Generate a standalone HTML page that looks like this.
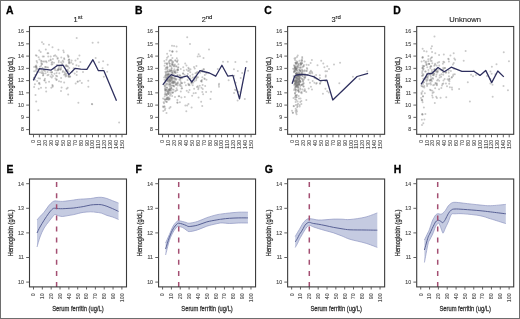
<!DOCTYPE html>
<html><head><meta charset="utf-8"><style>
html,body{margin:0;padding:0;background:#fff;width:520px;height:319px;overflow:hidden;font-family:"Liberation Sans", sans-serif;}
</style></head><body>
<svg width="520" height="319" viewBox="0 0 520 319" style="display:block;will-change:transform">
<rect x="0" y="0" width="520" height="319" fill="#fff"/>
<g fill="#777" fill-opacity="0.4">
<circle cx="57.52" cy="58.67" r="1"/>
<circle cx="52.35" cy="64.24" r="1"/>
<circle cx="36.6" cy="60.9" r="1"/>
<circle cx="42.12" cy="64.02" r="1"/>
<circle cx="60.99" cy="90.93" r="1"/>
<circle cx="47.59" cy="53.37" r="1"/>
<circle cx="45.19" cy="67.08" r="1"/>
<circle cx="47.49" cy="75.24" r="1"/>
<circle cx="36.24" cy="65.53" r="1"/>
<circle cx="55.16" cy="55.34" r="1"/>
<circle cx="62.68" cy="71.88" r="1"/>
<circle cx="65.59" cy="76.53" r="1"/>
<circle cx="69.37" cy="62.06" r="1"/>
<circle cx="51.69" cy="62.68" r="1"/>
<circle cx="61.61" cy="87.51" r="1"/>
<circle cx="55.48" cy="78.43" r="1"/>
<circle cx="64.32" cy="59.13" r="1"/>
<circle cx="59.34" cy="73.36" r="1"/>
<circle cx="72.4" cy="71.66" r="1"/>
<circle cx="50.71" cy="60.13" r="1"/>
<circle cx="36.21" cy="68.99" r="1"/>
<circle cx="65.45" cy="74.7" r="1"/>
<circle cx="53.86" cy="56.1" r="1"/>
<circle cx="49.04" cy="81.7" r="1"/>
<circle cx="78.73" cy="66.02" r="1"/>
<circle cx="51.54" cy="64.62" r="1"/>
<circle cx="34.24" cy="77.79" r="1"/>
<circle cx="66.27" cy="64.99" r="1"/>
<circle cx="58.43" cy="49.76" r="1"/>
<circle cx="71.28" cy="62.58" r="1"/>
<circle cx="37.82" cy="71.91" r="1"/>
<circle cx="39.93" cy="72.2" r="1"/>
<circle cx="34.1" cy="66.94" r="1"/>
<circle cx="65.56" cy="65.89" r="1"/>
<circle cx="43.17" cy="74.93" r="1"/>
<circle cx="80.38" cy="61.94" r="1"/>
<circle cx="37.18" cy="62.39" r="1"/>
<circle cx="41.61" cy="64.2" r="1"/>
<circle cx="58.71" cy="62.15" r="1"/>
<circle cx="69.31" cy="59.81" r="1"/>
<circle cx="43.49" cy="73.54" r="1"/>
<circle cx="62.13" cy="65.17" r="1"/>
<circle cx="63.3" cy="50.48" r="1"/>
<circle cx="68.58" cy="71.39" r="1"/>
<circle cx="46.89" cy="67.28" r="1"/>
<circle cx="59.01" cy="69.15" r="1"/>
<circle cx="92.65" cy="42.67" r="1"/>
<circle cx="88.26" cy="80.81" r="1"/>
<circle cx="41.17" cy="65.7" r="1"/>
<circle cx="56.44" cy="56.43" r="1"/>
<circle cx="37.14" cy="81.03" r="1"/>
<circle cx="51.29" cy="87.77" r="1"/>
<circle cx="46.06" cy="61.36" r="1"/>
<circle cx="68.17" cy="94.41" r="1"/>
<circle cx="38.66" cy="57.21" r="1"/>
<circle cx="63.84" cy="52.29" r="1"/>
<circle cx="103.8" cy="76.87" r="1"/>
<circle cx="69.03" cy="59.59" r="1"/>
<circle cx="67.69" cy="87.74" r="1"/>
<circle cx="43.15" cy="61.55" r="1"/>
<circle cx="55.2" cy="70.18" r="1"/>
<circle cx="50.58" cy="59.38" r="1"/>
<circle cx="66.64" cy="88.81" r="1"/>
<circle cx="52.93" cy="59.1" r="1"/>
<circle cx="40.68" cy="52.02" r="1"/>
<circle cx="60.19" cy="69.14" r="1"/>
<circle cx="52.75" cy="85.71" r="1"/>
<circle cx="43.03" cy="75.43" r="1"/>
<circle cx="52.36" cy="84.9" r="1"/>
<circle cx="56.13" cy="75.84" r="1"/>
<circle cx="59.02" cy="81.14" r="1"/>
<circle cx="66.68" cy="66.01" r="1"/>
<circle cx="46.19" cy="91.43" r="1"/>
<circle cx="38.47" cy="78.15" r="1"/>
<circle cx="42.75" cy="56.5" r="1"/>
<circle cx="41.29" cy="63.11" r="1"/>
<circle cx="39.24" cy="50.56" r="1"/>
<circle cx="52.65" cy="86.8" r="1"/>
<circle cx="72.89" cy="64.08" r="1"/>
<circle cx="41.13" cy="60.73" r="1"/>
<circle cx="34.79" cy="79.53" r="1"/>
<circle cx="56.55" cy="73.09" r="1"/>
<circle cx="69.54" cy="63.33" r="1"/>
<circle cx="35.51" cy="94.99" r="1"/>
<circle cx="38.75" cy="88.63" r="1"/>
<circle cx="39.47" cy="59.45" r="1"/>
<circle cx="59.3" cy="66.72" r="1"/>
<circle cx="36.7" cy="67.78" r="1"/>
<circle cx="102.59" cy="68.27" r="1"/>
<circle cx="65.14" cy="73.46" r="1"/>
<circle cx="53.99" cy="62.64" r="1"/>
<circle cx="42.67" cy="73.02" r="1"/>
<circle cx="35.9" cy="67.05" r="1"/>
<circle cx="44.53" cy="61.49" r="1"/>
<circle cx="46.58" cy="62.18" r="1"/>
<circle cx="53.92" cy="68.73" r="1"/>
<circle cx="67.73" cy="55.35" r="1"/>
<circle cx="64.13" cy="58.36" r="1"/>
<circle cx="58.84" cy="60.65" r="1"/>
<circle cx="56.98" cy="70.56" r="1"/>
<circle cx="36.05" cy="67" r="1"/>
<circle cx="39.97" cy="66.84" r="1"/>
<circle cx="74.67" cy="73.39" r="1"/>
<circle cx="50.63" cy="76.58" r="1"/>
<circle cx="43.56" cy="44.04" r="1"/>
<circle cx="68.84" cy="75.83" r="1"/>
<circle cx="34.13" cy="77.76" r="1"/>
<circle cx="52.26" cy="62.05" r="1"/>
<circle cx="37.32" cy="71.88" r="1"/>
<circle cx="42.47" cy="67.89" r="1"/>
<circle cx="61.1" cy="78.11" r="1"/>
<circle cx="45.83" cy="82.57" r="1"/>
<circle cx="76.84" cy="71.85" r="1"/>
<circle cx="75.66" cy="83.46" r="1"/>
<circle cx="63.32" cy="61.93" r="1"/>
<circle cx="71.6" cy="60.41" r="1"/>
<circle cx="66.22" cy="75.74" r="1"/>
<circle cx="38.88" cy="83.32" r="1"/>
<circle cx="64.17" cy="82.43" r="1"/>
<circle cx="51.7" cy="74.53" r="1"/>
<circle cx="61.02" cy="81.7" r="1"/>
<circle cx="60.61" cy="69.8" r="1"/>
<circle cx="43.65" cy="70.44" r="1"/>
<circle cx="57.11" cy="76.16" r="1"/>
<circle cx="58.7" cy="68.13" r="1"/>
<circle cx="39.4" cy="83.07" r="1"/>
<circle cx="45.05" cy="70.99" r="1"/>
<circle cx="58.28" cy="70.22" r="1"/>
<circle cx="44.56" cy="80.47" r="1"/>
<circle cx="66.25" cy="70.71" r="1"/>
<circle cx="77.73" cy="58.78" r="1"/>
<circle cx="55.04" cy="68.38" r="1"/>
<circle cx="68.12" cy="66.41" r="1"/>
<circle cx="68.38" cy="57.03" r="1"/>
<circle cx="57.8" cy="58" r="1"/>
<circle cx="56.75" cy="79.54" r="1"/>
<circle cx="51.79" cy="77.49" r="1"/>
<circle cx="45.47" cy="67.05" r="1"/>
<circle cx="61.11" cy="66.94" r="1"/>
<circle cx="66.54" cy="73.77" r="1"/>
<circle cx="48.23" cy="56.5" r="1"/>
<circle cx="43.99" cy="69.67" r="1"/>
<circle cx="64.13" cy="74.67" r="1"/>
<circle cx="52.48" cy="47.2" r="1"/>
<circle cx="68.5" cy="56.19" r="1"/>
<circle cx="77.94" cy="81.48" r="1"/>
<circle cx="35.87" cy="70.76" r="1"/>
<circle cx="44.39" cy="80.24" r="1"/>
<circle cx="40.02" cy="78.43" r="1"/>
<circle cx="69.23" cy="68.01" r="1"/>
<circle cx="44.92" cy="78.76" r="1"/>
<circle cx="41.57" cy="73.03" r="1"/>
<circle cx="42.01" cy="42.19" r="1"/>
<circle cx="41.01" cy="87.87" r="1"/>
<circle cx="37.37" cy="69.06" r="1"/>
<circle cx="69.03" cy="62.02" r="1"/>
<circle cx="52.95" cy="75.94" r="1"/>
<circle cx="68.92" cy="63.35" r="1"/>
<circle cx="56.75" cy="65.12" r="1"/>
<circle cx="48.48" cy="74.76" r="1"/>
<circle cx="73.65" cy="68.14" r="1"/>
<circle cx="66.33" cy="71.05" r="1"/>
<circle cx="34.1" cy="86.98" r="1"/>
<circle cx="79.41" cy="55.46" r="1"/>
<circle cx="39.65" cy="84.26" r="1"/>
<circle cx="107.22" cy="71.65" r="1"/>
<circle cx="50.55" cy="72.21" r="1"/>
<circle cx="67.2" cy="70.46" r="1"/>
<circle cx="38.7" cy="69.73" r="1"/>
<circle cx="36.62" cy="55.64" r="1"/>
<circle cx="48.06" cy="67.38" r="1"/>
<circle cx="50.67" cy="56.47" r="1"/>
<circle cx="103.13" cy="61.28" r="1"/>
<circle cx="68.66" cy="77" r="1"/>
<circle cx="34.87" cy="84.26" r="1"/>
<circle cx="58.11" cy="69.42" r="1"/>
<circle cx="35.32" cy="74.95" r="1"/>
<circle cx="62.78" cy="60.86" r="1"/>
<circle cx="41.48" cy="61.26" r="1"/>
<circle cx="42.06" cy="71.17" r="1"/>
<circle cx="68.35" cy="75.88" r="1"/>
<circle cx="58.03" cy="69.41" r="1"/>
<circle cx="76.67" cy="74.89" r="1"/>
<circle cx="76.44" cy="65.37" r="1"/>
<circle cx="48.25" cy="53.27" r="1"/>
<circle cx="77.51" cy="81.71" r="1"/>
<circle cx="67.77" cy="69.63" r="1"/>
<circle cx="47.55" cy="72.07" r="1"/>
<circle cx="34.19" cy="71.27" r="1"/>
<circle cx="75.47" cy="60.61" r="1"/>
<circle cx="79.91" cy="80.87" r="1"/>
<circle cx="35.86" cy="55.31" r="1"/>
<circle cx="67.18" cy="66.31" r="1"/>
<circle cx="48.87" cy="60.84" r="1"/>
<circle cx="35.55" cy="66.14" r="1"/>
<circle cx="60.98" cy="68.81" r="1"/>
<circle cx="43.89" cy="56.48" r="1"/>
<circle cx="45.48" cy="73.14" r="1"/>
<circle cx="61.29" cy="57.55" r="1"/>
<circle cx="70.19" cy="76.54" r="1"/>
<circle cx="68.52" cy="60.29" r="1"/>
<circle cx="51.85" cy="72.34" r="1"/>
<circle cx="62.97" cy="70.89" r="1"/>
<circle cx="45.89" cy="87.76" r="1"/>
<circle cx="62.24" cy="63.86" r="1"/>
<circle cx="36.42" cy="66.48" r="1"/>
<circle cx="45.81" cy="49.41" r="1"/>
<circle cx="82.97" cy="72.09" r="1"/>
<circle cx="52.03" cy="72.24" r="1"/>
<circle cx="56.41" cy="79.9" r="1"/>
<circle cx="64.57" cy="72.13" r="1"/>
<circle cx="54.49" cy="73.85" r="1"/>
<circle cx="41.26" cy="69.46" r="1"/>
<circle cx="61.04" cy="62.22" r="1"/>
<circle cx="69.81" cy="76.68" r="1"/>
<circle cx="91.9" cy="104" r="1"/>
<circle cx="119.1" cy="122.6" r="1"/>
<circle cx="36.2" cy="101.4" r="1"/>
<circle cx="38.4" cy="110.2" r="1"/>
<circle cx="78.4" cy="102.7" r="1"/>
<circle cx="92.2" cy="104.2" r="1"/>
<circle cx="81.8" cy="82.9" r="1"/>
<circle cx="88.4" cy="86.7" r="1"/>
<circle cx="76.7" cy="38" r="1"/>
<circle cx="98.2" cy="42.4" r="1"/>
<circle cx="95.6" cy="57.9" r="1"/>
<circle cx="107.7" cy="64.8" r="1"/>
<circle cx="99" cy="62.2" r="1"/>
<circle cx="49" cy="44.8" r="1"/>
<circle cx="206.47" cy="79.74" r="1"/>
<circle cx="165.13" cy="76.16" r="1"/>
<circle cx="170.02" cy="80.88" r="1"/>
<circle cx="172.83" cy="65" r="1"/>
<circle cx="201.69" cy="81.84" r="1"/>
<circle cx="169.76" cy="60.29" r="1"/>
<circle cx="218.9" cy="85.01" r="1"/>
<circle cx="168.32" cy="74.68" r="1"/>
<circle cx="173.07" cy="92.36" r="1"/>
<circle cx="167.18" cy="69.58" r="1"/>
<circle cx="196.29" cy="78.67" r="1"/>
<circle cx="172.05" cy="92.71" r="1"/>
<circle cx="175.01" cy="72.8" r="1"/>
<circle cx="169.05" cy="83.07" r="1"/>
<circle cx="168.8" cy="90.04" r="1"/>
<circle cx="167.1" cy="53.86" r="1"/>
<circle cx="167.15" cy="83.58" r="1"/>
<circle cx="191.61" cy="107.39" r="1"/>
<circle cx="173.08" cy="62.55" r="1"/>
<circle cx="190.47" cy="78.5" r="1"/>
<circle cx="172.54" cy="89.55" r="1"/>
<circle cx="174.7" cy="65.47" r="1"/>
<circle cx="171.88" cy="78.08" r="1"/>
<circle cx="187.82" cy="73.9" r="1"/>
<circle cx="173.88" cy="74.65" r="1"/>
<circle cx="169.31" cy="69.66" r="1"/>
<circle cx="164.33" cy="60.9" r="1"/>
<circle cx="170.52" cy="60.52" r="1"/>
<circle cx="203.15" cy="94.34" r="1"/>
<circle cx="166.13" cy="77.63" r="1"/>
<circle cx="167.64" cy="67.58" r="1"/>
<circle cx="165.6" cy="77.16" r="1"/>
<circle cx="176.46" cy="83.58" r="1"/>
<circle cx="171.99" cy="83.07" r="1"/>
<circle cx="164.74" cy="96.53" r="1"/>
<circle cx="167.79" cy="76.47" r="1"/>
<circle cx="168.51" cy="94.1" r="1"/>
<circle cx="168.48" cy="92.15" r="1"/>
<circle cx="173.81" cy="85.88" r="1"/>
<circle cx="167" cy="64.23" r="1"/>
<circle cx="171.23" cy="77.64" r="1"/>
<circle cx="175.36" cy="60.73" r="1"/>
<circle cx="172.38" cy="75.77" r="1"/>
<circle cx="175.78" cy="72.89" r="1"/>
<circle cx="180.08" cy="75.4" r="1"/>
<circle cx="169.46" cy="98.39" r="1"/>
<circle cx="177.55" cy="75.01" r="1"/>
<circle cx="173.02" cy="81.19" r="1"/>
<circle cx="196.55" cy="76.5" r="1"/>
<circle cx="205.16" cy="86.01" r="1"/>
<circle cx="234.21" cy="75.7" r="1"/>
<circle cx="169.56" cy="79.12" r="1"/>
<circle cx="199.75" cy="85.85" r="1"/>
<circle cx="164.56" cy="79.72" r="1"/>
<circle cx="169.81" cy="66.32" r="1"/>
<circle cx="173.68" cy="77.77" r="1"/>
<circle cx="180.23" cy="85.85" r="1"/>
<circle cx="233.93" cy="69.21" r="1"/>
<circle cx="201.95" cy="70.4" r="1"/>
<circle cx="165.15" cy="90.37" r="1"/>
<circle cx="180.43" cy="80.06" r="1"/>
<circle cx="171.38" cy="87.64" r="1"/>
<circle cx="182.29" cy="78.28" r="1"/>
<circle cx="166.59" cy="79.51" r="1"/>
<circle cx="192.98" cy="82.84" r="1"/>
<circle cx="193.92" cy="79.63" r="1"/>
<circle cx="170.5" cy="70.36" r="1"/>
<circle cx="177.55" cy="102.73" r="1"/>
<circle cx="169.5" cy="77.09" r="1"/>
<circle cx="180.77" cy="69.05" r="1"/>
<circle cx="170.31" cy="84.27" r="1"/>
<circle cx="173.28" cy="85.69" r="1"/>
<circle cx="173.64" cy="83.33" r="1"/>
<circle cx="174.2" cy="66.42" r="1"/>
<circle cx="183.88" cy="70.47" r="1"/>
<circle cx="180.72" cy="78.23" r="1"/>
<circle cx="167.18" cy="66.55" r="1"/>
<circle cx="181.45" cy="86.27" r="1"/>
<circle cx="171.46" cy="81.26" r="1"/>
<circle cx="167.88" cy="74.85" r="1"/>
<circle cx="170.37" cy="81.08" r="1"/>
<circle cx="173.03" cy="81.59" r="1"/>
<circle cx="166.97" cy="87.61" r="1"/>
<circle cx="175.17" cy="82.77" r="1"/>
<circle cx="174.87" cy="64.58" r="1"/>
<circle cx="238.68" cy="91.72" r="1"/>
<circle cx="196.92" cy="86.92" r="1"/>
<circle cx="171.27" cy="79.03" r="1"/>
<circle cx="171.64" cy="79.41" r="1"/>
<circle cx="178.67" cy="96.37" r="1"/>
<circle cx="165.47" cy="71.78" r="1"/>
<circle cx="169.63" cy="63.65" r="1"/>
<circle cx="202.22" cy="70.85" r="1"/>
<circle cx="170.59" cy="80.4" r="1"/>
<circle cx="202.22" cy="105.88" r="1"/>
<circle cx="170.95" cy="55.37" r="1"/>
<circle cx="193.98" cy="67.07" r="1"/>
<circle cx="201.36" cy="81.01" r="1"/>
<circle cx="169.35" cy="93.52" r="1"/>
<circle cx="171.92" cy="64.42" r="1"/>
<circle cx="172.76" cy="82.65" r="1"/>
<circle cx="185.19" cy="63.62" r="1"/>
<circle cx="170.97" cy="77.3" r="1"/>
<circle cx="168.25" cy="94" r="1"/>
<circle cx="170.99" cy="88.21" r="1"/>
<circle cx="202.65" cy="85.02" r="1"/>
<circle cx="181.38" cy="97.43" r="1"/>
<circle cx="187.81" cy="77.15" r="1"/>
<circle cx="192.79" cy="77.49" r="1"/>
<circle cx="179.49" cy="75.32" r="1"/>
<circle cx="180.71" cy="76.44" r="1"/>
<circle cx="174.7" cy="78.26" r="1"/>
<circle cx="169.35" cy="89.69" r="1"/>
<circle cx="177.89" cy="82.3" r="1"/>
<circle cx="169.66" cy="89.46" r="1"/>
<circle cx="195.49" cy="73.23" r="1"/>
<circle cx="172.41" cy="57.91" r="1"/>
<circle cx="171.53" cy="85.48" r="1"/>
<circle cx="172.94" cy="61.53" r="1"/>
<circle cx="210.51" cy="99.03" r="1"/>
<circle cx="170.69" cy="89.55" r="1"/>
<circle cx="204.67" cy="79.03" r="1"/>
<circle cx="171.98" cy="62.7" r="1"/>
<circle cx="177.38" cy="69.38" r="1"/>
<circle cx="172.12" cy="95.93" r="1"/>
<circle cx="182.11" cy="88.36" r="1"/>
<circle cx="242.18" cy="72.95" r="1"/>
<circle cx="171.28" cy="71.08" r="1"/>
<circle cx="183.02" cy="73.38" r="1"/>
<circle cx="168.3" cy="97.49" r="1"/>
<circle cx="181.83" cy="83.01" r="1"/>
<circle cx="177.22" cy="61.8" r="1"/>
<circle cx="174.97" cy="96.99" r="1"/>
<circle cx="173.87" cy="70.75" r="1"/>
<circle cx="175.82" cy="70.64" r="1"/>
<circle cx="168.06" cy="99.7" r="1"/>
<circle cx="172.44" cy="72.47" r="1"/>
<circle cx="167.96" cy="80.28" r="1"/>
<circle cx="176.65" cy="51.56" r="1"/>
<circle cx="248.07" cy="70.66" r="1"/>
<circle cx="196.59" cy="72.9" r="1"/>
<circle cx="172.76" cy="64.55" r="1"/>
<circle cx="171.58" cy="68.85" r="1"/>
<circle cx="165.83" cy="67.81" r="1"/>
<circle cx="192.72" cy="85.31" r="1"/>
<circle cx="170.84" cy="94.34" r="1"/>
<circle cx="190.48" cy="69.16" r="1"/>
<circle cx="177.24" cy="83.32" r="1"/>
<circle cx="201.16" cy="101.74" r="1"/>
<circle cx="185.88" cy="85.36" r="1"/>
<circle cx="179.28" cy="96.22" r="1"/>
<circle cx="178.06" cy="70.05" r="1"/>
<circle cx="166" cy="75.11" r="1"/>
<circle cx="166.67" cy="102.06" r="1"/>
<circle cx="166.83" cy="95.17" r="1"/>
<circle cx="164.08" cy="77.47" r="1"/>
<circle cx="168.02" cy="81.13" r="1"/>
<circle cx="188.38" cy="67.77" r="1"/>
<circle cx="174.79" cy="82.07" r="1"/>
<circle cx="188.48" cy="92.31" r="1"/>
<circle cx="173.9" cy="81.81" r="1"/>
<circle cx="197.72" cy="56.51" r="1"/>
<circle cx="188.14" cy="71.1" r="1"/>
<circle cx="171.64" cy="67.93" r="1"/>
<circle cx="170.65" cy="82.66" r="1"/>
<circle cx="167.09" cy="76.47" r="1"/>
<circle cx="176.87" cy="61.47" r="1"/>
<circle cx="176.6" cy="66.25" r="1"/>
<circle cx="186.46" cy="65.52" r="1"/>
<circle cx="172.25" cy="51.29" r="1"/>
<circle cx="166.33" cy="94.98" r="1"/>
<circle cx="179.76" cy="84.82" r="1"/>
<circle cx="201.09" cy="81.08" r="1"/>
<circle cx="168.1" cy="73.46" r="1"/>
<circle cx="170.37" cy="78.63" r="1"/>
<circle cx="177.86" cy="83.41" r="1"/>
<circle cx="177.26" cy="89.9" r="1"/>
<circle cx="166.5" cy="59.86" r="1"/>
<circle cx="167.18" cy="68.11" r="1"/>
<circle cx="237.64" cy="100.53" r="1"/>
<circle cx="172.33" cy="64" r="1"/>
<circle cx="168.47" cy="74.46" r="1"/>
<circle cx="171.92" cy="77.7" r="1"/>
<circle cx="167.01" cy="63.29" r="1"/>
<circle cx="166.77" cy="67.67" r="1"/>
<circle cx="202.75" cy="88.91" r="1"/>
<circle cx="176.04" cy="84.15" r="1"/>
<circle cx="202.32" cy="92.07" r="1"/>
<circle cx="169.94" cy="71.35" r="1"/>
<circle cx="168.8" cy="79.21" r="1"/>
<circle cx="174.36" cy="69.27" r="1"/>
<circle cx="164.98" cy="84.78" r="1"/>
<circle cx="173.61" cy="89.8" r="1"/>
<circle cx="166.85" cy="97.58" r="1"/>
<circle cx="164.59" cy="65.68" r="1"/>
<circle cx="166.97" cy="91.27" r="1"/>
<circle cx="166.37" cy="90" r="1"/>
<circle cx="206.12" cy="92.04" r="1"/>
<circle cx="228.62" cy="80.22" r="1"/>
<circle cx="201.52" cy="87.71" r="1"/>
<circle cx="175.31" cy="78.4" r="1"/>
<circle cx="167.66" cy="91.75" r="1"/>
<circle cx="200.21" cy="72.81" r="1"/>
<circle cx="167.33" cy="79.58" r="1"/>
<circle cx="180.77" cy="81.89" r="1"/>
<circle cx="180.63" cy="83.83" r="1"/>
<circle cx="170.01" cy="65.42" r="1"/>
<circle cx="189.39" cy="70.51" r="1"/>
<circle cx="171.53" cy="70.21" r="1"/>
<circle cx="189.56" cy="90" r="1"/>
<circle cx="192.12" cy="95.67" r="1"/>
<circle cx="191.34" cy="82.58" r="1"/>
<circle cx="197.72" cy="86.29" r="1"/>
<circle cx="170.79" cy="76.63" r="1"/>
<circle cx="193.62" cy="93.3" r="1"/>
<circle cx="178.36" cy="64.33" r="1"/>
<circle cx="167.4" cy="74.82" r="1"/>
<circle cx="165.75" cy="99.35" r="1"/>
<circle cx="169.14" cy="80.66" r="1"/>
<circle cx="172.83" cy="92.78" r="1"/>
<circle cx="169.01" cy="90.58" r="1"/>
<circle cx="186.7" cy="69.76" r="1"/>
<circle cx="177.89" cy="69.89" r="1"/>
<circle cx="170.73" cy="77.78" r="1"/>
<circle cx="169.35" cy="84.51" r="1"/>
<circle cx="240.68" cy="77.94" r="1"/>
<circle cx="196.6" cy="77.86" r="1"/>
<circle cx="183.09" cy="73.48" r="1"/>
<circle cx="196.45" cy="65.98" r="1"/>
<circle cx="204.23" cy="71.54" r="1"/>
<circle cx="182" cy="83.27" r="1"/>
<circle cx="180.81" cy="77.9" r="1"/>
<circle cx="196.2" cy="80.23" r="1"/>
<circle cx="170.76" cy="85.96" r="1"/>
<circle cx="166.89" cy="84.75" r="1"/>
<circle cx="234.93" cy="89.74" r="1"/>
<circle cx="183.26" cy="67.36" r="1"/>
<circle cx="198.56" cy="87.75" r="1"/>
<circle cx="168.83" cy="62.42" r="1"/>
<circle cx="191.7" cy="82.18" r="1"/>
<circle cx="191.52" cy="83.57" r="1"/>
<circle cx="194.73" cy="68.49" r="1"/>
<circle cx="180.79" cy="91.53" r="1"/>
<circle cx="174.83" cy="79.28" r="1"/>
<circle cx="165.55" cy="89.88" r="1"/>
<circle cx="237.79" cy="70.99" r="1"/>
<circle cx="165.08" cy="82.59" r="1"/>
<circle cx="203.51" cy="58.1" r="1"/>
<circle cx="177.35" cy="72.24" r="1"/>
<circle cx="197.24" cy="72.05" r="1"/>
<circle cx="168.96" cy="84.79" r="1"/>
<circle cx="166.77" cy="79.92" r="1"/>
<circle cx="171.83" cy="61" r="1"/>
<circle cx="177.4" cy="100" r="1"/>
<circle cx="186.75" cy="90.64" r="1"/>
<circle cx="171.45" cy="72.69" r="1"/>
<circle cx="169.03" cy="89.35" r="1"/>
<circle cx="166.81" cy="71.72" r="1"/>
<circle cx="217.76" cy="68.94" r="1"/>
<circle cx="177.52" cy="69.72" r="1"/>
<circle cx="218.99" cy="86.87" r="1"/>
<circle cx="176.56" cy="46.51" r="1"/>
<circle cx="190.22" cy="72.34" r="1"/>
<circle cx="171.18" cy="90.8" r="1"/>
<circle cx="199.87" cy="71.16" r="1"/>
<circle cx="169.48" cy="77.26" r="1"/>
<circle cx="173.57" cy="66.02" r="1"/>
<circle cx="204.8" cy="74.94" r="1"/>
<circle cx="219.06" cy="83.83" r="1"/>
<circle cx="190.12" cy="76.03" r="1"/>
<circle cx="194.15" cy="88.79" r="1"/>
<circle cx="174.09" cy="46.03" r="1"/>
<circle cx="167.73" cy="71.15" r="1"/>
<circle cx="171.14" cy="59.8" r="1"/>
<circle cx="234.05" cy="93.09" r="1"/>
<circle cx="206.26" cy="73.58" r="1"/>
<circle cx="194.43" cy="77.26" r="1"/>
<circle cx="165.85" cy="89.47" r="1"/>
<circle cx="168.8" cy="71.78" r="1"/>
<circle cx="167.91" cy="78.59" r="1"/>
<circle cx="176.02" cy="66.39" r="1"/>
<circle cx="169.64" cy="86.49" r="1"/>
<circle cx="173.79" cy="82.79" r="1"/>
<circle cx="202.55" cy="71.71" r="1"/>
<circle cx="175.25" cy="60.27" r="1"/>
<circle cx="181.5" cy="88.54" r="1"/>
<circle cx="192.56" cy="74.51" r="1"/>
<circle cx="173.26" cy="82.54" r="1"/>
<circle cx="166.22" cy="73.41" r="1"/>
<circle cx="168.01" cy="74.48" r="1"/>
<circle cx="174.91" cy="72.1" r="1"/>
<circle cx="167.05" cy="57.7" r="1"/>
<circle cx="171.97" cy="79.88" r="1"/>
<circle cx="176.57" cy="88.34" r="1"/>
<circle cx="170.79" cy="76.23" r="1"/>
<circle cx="203.95" cy="69.36" r="1"/>
<circle cx="168.18" cy="56.62" r="1"/>
<circle cx="169.7" cy="88.47" r="1"/>
<circle cx="235.7" cy="82.65" r="1"/>
<circle cx="172.69" cy="72.71" r="1"/>
<circle cx="166.62" cy="101.7" r="1"/>
<circle cx="175.52" cy="84.79" r="1"/>
<circle cx="169.23" cy="77.15" r="1"/>
<circle cx="165.57" cy="75.23" r="1"/>
<circle cx="171.24" cy="88.19" r="1"/>
<circle cx="170.35" cy="92.53" r="1"/>
<circle cx="176.23" cy="90.6" r="1"/>
<circle cx="169.75" cy="90.6" r="1"/>
<circle cx="235.99" cy="90.18" r="1"/>
<circle cx="169.06" cy="61.16" r="1"/>
<circle cx="201.91" cy="80.1" r="1"/>
<circle cx="174.74" cy="72.34" r="1"/>
<circle cx="169.88" cy="79.97" r="1"/>
<circle cx="166.45" cy="74.94" r="1"/>
<circle cx="168.58" cy="99.18" r="1"/>
<circle cx="195.74" cy="92.89" r="1"/>
<circle cx="177.69" cy="60.29" r="1"/>
<circle cx="165.21" cy="92.89" r="1"/>
<circle cx="169.78" cy="50.77" r="1"/>
<circle cx="171.97" cy="77.26" r="1"/>
<circle cx="172.46" cy="78.26" r="1"/>
<circle cx="169.27" cy="81.66" r="1"/>
<circle cx="167.84" cy="91.1" r="1"/>
<circle cx="167.41" cy="80.88" r="1"/>
<circle cx="170.2" cy="84.29" r="1"/>
<circle cx="166.35" cy="78.85" r="1"/>
<circle cx="174.49" cy="71.57" r="1"/>
<circle cx="165.39" cy="91.32" r="1"/>
<circle cx="165.71" cy="87.45" r="1"/>
<circle cx="177.26" cy="102.44" r="1"/>
<circle cx="165.37" cy="69.27" r="1"/>
<circle cx="165.04" cy="63.37" r="1"/>
<circle cx="177.69" cy="85.38" r="1"/>
<circle cx="203.47" cy="69.23" r="1"/>
<circle cx="170.52" cy="106.96" r="1"/>
<circle cx="184.66" cy="82.4" r="1"/>
<circle cx="188.83" cy="68.72" r="1"/>
<circle cx="172.61" cy="73.39" r="1"/>
<circle cx="204.4" cy="78.59" r="1"/>
<circle cx="202.39" cy="77.19" r="1"/>
<circle cx="194.49" cy="81.31" r="1"/>
<circle cx="164.63" cy="85.95" r="1"/>
<circle cx="188.42" cy="104.12" r="1"/>
<circle cx="176.49" cy="84.81" r="1"/>
<circle cx="179.89" cy="102.24" r="1"/>
<circle cx="165.89" cy="80.8" r="1"/>
<circle cx="177.53" cy="76" r="1"/>
<circle cx="172.4" cy="82.42" r="1"/>
<circle cx="176.41" cy="79.18" r="1"/>
<circle cx="172.49" cy="71.29" r="1"/>
<circle cx="166.39" cy="83.71" r="1"/>
<circle cx="189.49" cy="85.36" r="1"/>
<circle cx="167.19" cy="77.53" r="1"/>
<circle cx="171.29" cy="66.37" r="1"/>
<circle cx="169.65" cy="80.25" r="1"/>
<circle cx="172.78" cy="85.59" r="1"/>
<circle cx="167.27" cy="78.89" r="1"/>
<circle cx="198.08" cy="77.15" r="1"/>
<circle cx="170.85" cy="75.93" r="1"/>
<circle cx="165.66" cy="72.75" r="1"/>
<circle cx="172.28" cy="51.82" r="1"/>
<circle cx="198.26" cy="89.3" r="1"/>
<circle cx="178.33" cy="67.35" r="1"/>
<circle cx="165.69" cy="80.66" r="1"/>
<circle cx="198.57" cy="97.51" r="1"/>
<circle cx="173.35" cy="78.67" r="1"/>
<circle cx="187.56" cy="80.12" r="1"/>
<circle cx="184.5" cy="74.67" r="1"/>
<circle cx="164.9" cy="88.17" r="1"/>
<circle cx="174.62" cy="80.92" r="1"/>
<circle cx="167.26" cy="89.59" r="1"/>
<circle cx="168.84" cy="74.42" r="1"/>
<circle cx="165.03" cy="85.98" r="1"/>
<circle cx="171.32" cy="70.53" r="1"/>
<circle cx="176.84" cy="58.27" r="1"/>
<circle cx="178.14" cy="67.73" r="1"/>
<circle cx="184.82" cy="96.9" r="1"/>
<circle cx="175.2" cy="91.24" r="1"/>
<circle cx="189.12" cy="84.51" r="1"/>
<circle cx="188.31" cy="83.71" r="1"/>
<circle cx="167.01" cy="87.87" r="1"/>
<circle cx="188.61" cy="85.12" r="1"/>
<circle cx="167.57" cy="71.45" r="1"/>
<circle cx="165.11" cy="89.56" r="1"/>
<circle cx="185.35" cy="105.42" r="1"/>
<circle cx="164.44" cy="99.29" r="1"/>
<circle cx="168.8" cy="92.04" r="1"/>
<circle cx="172.71" cy="51.59" r="1"/>
<circle cx="199.94" cy="56.34" r="1"/>
<circle cx="169.67" cy="74.31" r="1"/>
<circle cx="174.16" cy="86.49" r="1"/>
<circle cx="170.15" cy="89.63" r="1"/>
<circle cx="166.8" cy="63.7" r="1"/>
<circle cx="169.99" cy="95.85" r="1"/>
<circle cx="175.97" cy="79.73" r="1"/>
<circle cx="169.87" cy="71.36" r="1"/>
<circle cx="211.07" cy="91.63" r="1"/>
<circle cx="169.6" cy="63.55" r="1"/>
<circle cx="179.37" cy="79.64" r="1"/>
<circle cx="172.45" cy="74.92" r="1"/>
<circle cx="164.99" cy="99.7" r="1"/>
<circle cx="165.36" cy="101.35" r="1"/>
<circle cx="169.42" cy="108.26" r="1"/>
<circle cx="166.47" cy="99.28" r="1"/>
<circle cx="166.52" cy="93.99" r="1"/>
<circle cx="165.63" cy="94.43" r="1"/>
<circle cx="167.55" cy="93.45" r="1"/>
<circle cx="163.47" cy="107.32" r="1"/>
<circle cx="164.81" cy="94.57" r="1"/>
<circle cx="162.96" cy="106.44" r="1"/>
<circle cx="167.72" cy="93.04" r="1"/>
<circle cx="164.06" cy="103.18" r="1"/>
<circle cx="167.53" cy="98.53" r="1"/>
<circle cx="167.93" cy="97.39" r="1"/>
<circle cx="164.55" cy="106.5" r="1"/>
<circle cx="163.05" cy="98.53" r="1"/>
<circle cx="164.28" cy="106.46" r="1"/>
<circle cx="169.41" cy="99.4" r="1"/>
<circle cx="166.88" cy="99.17" r="1"/>
<circle cx="166.92" cy="98.46" r="1"/>
<circle cx="164.93" cy="110.05" r="1"/>
<circle cx="163.32" cy="110.96" r="1"/>
<circle cx="165.32" cy="108.61" r="1"/>
<circle cx="163.63" cy="102.15" r="1"/>
<circle cx="169.44" cy="98.59" r="1"/>
<circle cx="187.2" cy="37.3" r="1"/>
<circle cx="190" cy="43.9" r="1"/>
<circle cx="209" cy="49.6" r="1"/>
<circle cx="172" cy="45.8" r="1"/>
<circle cx="198.6" cy="54.3" r="1"/>
<circle cx="223" cy="61.8" r="1"/>
<circle cx="227.8" cy="61.8" r="1"/>
<circle cx="235.4" cy="62" r="1"/>
<circle cx="246.7" cy="61.8" r="1"/>
<circle cx="186.3" cy="111.2" r="1"/>
<circle cx="187.2" cy="105.5" r="1"/>
<circle cx="166.5" cy="113" r="1"/>
<circle cx="244.8" cy="98.9" r="1"/>
<circle cx="299.55" cy="75.18" r="1"/>
<circle cx="294" cy="80.88" r="1"/>
<circle cx="298.59" cy="81.65" r="1"/>
<circle cx="298.55" cy="87.27" r="1"/>
<circle cx="296.94" cy="73.11" r="1"/>
<circle cx="308.68" cy="64.97" r="1"/>
<circle cx="296.21" cy="68.89" r="1"/>
<circle cx="310.93" cy="70.77" r="1"/>
<circle cx="303.15" cy="80.96" r="1"/>
<circle cx="298.13" cy="75.03" r="1"/>
<circle cx="340.04" cy="62.73" r="1"/>
<circle cx="295.2" cy="99.27" r="1"/>
<circle cx="294.45" cy="70.77" r="1"/>
<circle cx="297.35" cy="79.6" r="1"/>
<circle cx="296.07" cy="69.66" r="1"/>
<circle cx="295.79" cy="77.88" r="1"/>
<circle cx="300.75" cy="67.37" r="1"/>
<circle cx="316.74" cy="82.91" r="1"/>
<circle cx="297.5" cy="86.11" r="1"/>
<circle cx="301.02" cy="64.24" r="1"/>
<circle cx="304.96" cy="77.93" r="1"/>
<circle cx="300.92" cy="77.93" r="1"/>
<circle cx="299.15" cy="81.44" r="1"/>
<circle cx="300.13" cy="71.25" r="1"/>
<circle cx="310.28" cy="73.61" r="1"/>
<circle cx="300.23" cy="88.2" r="1"/>
<circle cx="304.75" cy="71.28" r="1"/>
<circle cx="302.64" cy="79.99" r="1"/>
<circle cx="303.3" cy="66.2" r="1"/>
<circle cx="303.36" cy="86.32" r="1"/>
<circle cx="298.25" cy="63.9" r="1"/>
<circle cx="299.53" cy="81.98" r="1"/>
<circle cx="295.9" cy="80.34" r="1"/>
<circle cx="295.19" cy="68.06" r="1"/>
<circle cx="296.93" cy="68.54" r="1"/>
<circle cx="302.07" cy="59.93" r="1"/>
<circle cx="297.3" cy="82.42" r="1"/>
<circle cx="295.91" cy="68.77" r="1"/>
<circle cx="301.67" cy="74.53" r="1"/>
<circle cx="303.62" cy="66.37" r="1"/>
<circle cx="294.05" cy="65.15" r="1"/>
<circle cx="306.23" cy="92.05" r="1"/>
<circle cx="297.99" cy="75.63" r="1"/>
<circle cx="296.62" cy="86.45" r="1"/>
<circle cx="295.73" cy="91.73" r="1"/>
<circle cx="300.34" cy="86.11" r="1"/>
<circle cx="298.91" cy="73.47" r="1"/>
<circle cx="319.82" cy="75.27" r="1"/>
<circle cx="298.39" cy="75.31" r="1"/>
<circle cx="301.74" cy="69.44" r="1"/>
<circle cx="298.93" cy="69.63" r="1"/>
<circle cx="308.44" cy="79.81" r="1"/>
<circle cx="295.94" cy="82.02" r="1"/>
<circle cx="295.71" cy="69.05" r="1"/>
<circle cx="294.49" cy="58.46" r="1"/>
<circle cx="300.29" cy="70.7" r="1"/>
<circle cx="298.96" cy="76.31" r="1"/>
<circle cx="297.64" cy="85.06" r="1"/>
<circle cx="294.81" cy="67.44" r="1"/>
<circle cx="297.77" cy="67.83" r="1"/>
<circle cx="320.74" cy="81.77" r="1"/>
<circle cx="310.62" cy="62.96" r="1"/>
<circle cx="300.27" cy="101.98" r="1"/>
<circle cx="297.55" cy="77.92" r="1"/>
<circle cx="297.15" cy="75.37" r="1"/>
<circle cx="295.98" cy="63.59" r="1"/>
<circle cx="297.23" cy="78.14" r="1"/>
<circle cx="299.51" cy="84.08" r="1"/>
<circle cx="299.52" cy="67.48" r="1"/>
<circle cx="304.1" cy="77.56" r="1"/>
<circle cx="301.4" cy="101.11" r="1"/>
<circle cx="301.68" cy="84.76" r="1"/>
<circle cx="310.92" cy="86.8" r="1"/>
<circle cx="297" cy="94.95" r="1"/>
<circle cx="296.56" cy="85.2" r="1"/>
<circle cx="295.05" cy="76.16" r="1"/>
<circle cx="293.95" cy="80.56" r="1"/>
<circle cx="302.39" cy="70.29" r="1"/>
<circle cx="299.3" cy="81.55" r="1"/>
<circle cx="295.3" cy="83.43" r="1"/>
<circle cx="302.91" cy="76.17" r="1"/>
<circle cx="299.45" cy="60.82" r="1"/>
<circle cx="297.84" cy="84.13" r="1"/>
<circle cx="293.08" cy="68.8" r="1"/>
<circle cx="301.35" cy="73.34" r="1"/>
<circle cx="303.94" cy="65.05" r="1"/>
<circle cx="296.06" cy="64.24" r="1"/>
<circle cx="296.37" cy="78.01" r="1"/>
<circle cx="300.4" cy="75.1" r="1"/>
<circle cx="293.93" cy="72.32" r="1"/>
<circle cx="334" cy="64.5" r="1"/>
<circle cx="301.7" cy="93.16" r="1"/>
<circle cx="301.43" cy="60.32" r="1"/>
<circle cx="295.69" cy="68.46" r="1"/>
<circle cx="299.56" cy="84.87" r="1"/>
<circle cx="294.84" cy="84.12" r="1"/>
<circle cx="296.31" cy="99.88" r="1"/>
<circle cx="312.27" cy="73.33" r="1"/>
<circle cx="301.21" cy="64.23" r="1"/>
<circle cx="301.38" cy="103.96" r="1"/>
<circle cx="302.43" cy="67.3" r="1"/>
<circle cx="299.16" cy="78.28" r="1"/>
<circle cx="359.54" cy="78.92" r="1"/>
<circle cx="297.13" cy="63.15" r="1"/>
<circle cx="295.82" cy="73.65" r="1"/>
<circle cx="295.51" cy="94.98" r="1"/>
<circle cx="305.06" cy="90.71" r="1"/>
<circle cx="299.95" cy="76.67" r="1"/>
<circle cx="299.71" cy="105.05" r="1"/>
<circle cx="367.28" cy="71.33" r="1"/>
<circle cx="323.3" cy="63.61" r="1"/>
<circle cx="300.44" cy="82.1" r="1"/>
<circle cx="317.51" cy="65.19" r="1"/>
<circle cx="295.08" cy="60.11" r="1"/>
<circle cx="300.49" cy="63.6" r="1"/>
<circle cx="304.65" cy="70.34" r="1"/>
<circle cx="295.58" cy="83.4" r="1"/>
<circle cx="295.55" cy="82.29" r="1"/>
<circle cx="302.22" cy="58.33" r="1"/>
<circle cx="306.58" cy="64.71" r="1"/>
<circle cx="303" cy="70.95" r="1"/>
<circle cx="294.87" cy="77.26" r="1"/>
<circle cx="296.74" cy="80.4" r="1"/>
<circle cx="297" cy="80.4" r="1"/>
<circle cx="302.66" cy="73.16" r="1"/>
<circle cx="319.89" cy="77.93" r="1"/>
<circle cx="298.2" cy="83.28" r="1"/>
<circle cx="300.65" cy="65.17" r="1"/>
<circle cx="297.08" cy="66.39" r="1"/>
<circle cx="304.99" cy="77.32" r="1"/>
<circle cx="302.66" cy="84.13" r="1"/>
<circle cx="296.89" cy="81.05" r="1"/>
<circle cx="325.46" cy="88.73" r="1"/>
<circle cx="308.7" cy="88.59" r="1"/>
<circle cx="298.04" cy="87.66" r="1"/>
<circle cx="295.84" cy="95.79" r="1"/>
<circle cx="295.1" cy="65.96" r="1"/>
<circle cx="296.13" cy="81.94" r="1"/>
<circle cx="297.21" cy="76.48" r="1"/>
<circle cx="303.6" cy="82.97" r="1"/>
<circle cx="294.05" cy="71.63" r="1"/>
<circle cx="298.71" cy="76.75" r="1"/>
<circle cx="298.89" cy="84.48" r="1"/>
<circle cx="296.91" cy="62.78" r="1"/>
<circle cx="304.61" cy="61.42" r="1"/>
<circle cx="296.12" cy="95.72" r="1"/>
<circle cx="306.71" cy="70.98" r="1"/>
<circle cx="295.85" cy="68.16" r="1"/>
<circle cx="300.81" cy="92.43" r="1"/>
<circle cx="296.36" cy="77.22" r="1"/>
<circle cx="325.49" cy="81.32" r="1"/>
<circle cx="297.28" cy="73.52" r="1"/>
<circle cx="311.92" cy="72.04" r="1"/>
<circle cx="298.75" cy="91.53" r="1"/>
<circle cx="299.14" cy="78.84" r="1"/>
<circle cx="298.45" cy="79.22" r="1"/>
<circle cx="298.79" cy="74.99" r="1"/>
<circle cx="298.04" cy="82.11" r="1"/>
<circle cx="296.05" cy="86.27" r="1"/>
<circle cx="298.13" cy="103.86" r="1"/>
<circle cx="314.44" cy="82.75" r="1"/>
<circle cx="304.2" cy="91.06" r="1"/>
<circle cx="296.23" cy="85.55" r="1"/>
<circle cx="300.52" cy="98.44" r="1"/>
<circle cx="305.35" cy="76.72" r="1"/>
<circle cx="294.28" cy="84.54" r="1"/>
<circle cx="296.06" cy="81.2" r="1"/>
<circle cx="298.87" cy="91.95" r="1"/>
<circle cx="319.91" cy="83.38" r="1"/>
<circle cx="300.44" cy="81.43" r="1"/>
<circle cx="299.9" cy="70.27" r="1"/>
<circle cx="295.83" cy="86.18" r="1"/>
<circle cx="296.98" cy="70.08" r="1"/>
<circle cx="299.48" cy="80.08" r="1"/>
<circle cx="327.2" cy="91.19" r="1"/>
<circle cx="300.42" cy="75" r="1"/>
<circle cx="302.5" cy="78.92" r="1"/>
<circle cx="294.03" cy="69.02" r="1"/>
<circle cx="293.65" cy="75.98" r="1"/>
<circle cx="298.09" cy="75.9" r="1"/>
<circle cx="297.53" cy="62" r="1"/>
<circle cx="296.46" cy="74.04" r="1"/>
<circle cx="302.58" cy="89.5" r="1"/>
<circle cx="297.27" cy="104.77" r="1"/>
<circle cx="307.28" cy="69.09" r="1"/>
<circle cx="299.43" cy="73.26" r="1"/>
<circle cx="327.26" cy="66.19" r="1"/>
<circle cx="295.89" cy="62.8" r="1"/>
<circle cx="294.91" cy="69.35" r="1"/>
<circle cx="302.69" cy="74.35" r="1"/>
<circle cx="296.22" cy="84.85" r="1"/>
<circle cx="296.23" cy="82.78" r="1"/>
<circle cx="314.25" cy="76.13" r="1"/>
<circle cx="299.46" cy="78.43" r="1"/>
<circle cx="297.63" cy="87.33" r="1"/>
<circle cx="299.33" cy="73.35" r="1"/>
<circle cx="306.86" cy="67.93" r="1"/>
<circle cx="294.83" cy="81.49" r="1"/>
<circle cx="295.95" cy="89.95" r="1"/>
<circle cx="297.98" cy="86.18" r="1"/>
<circle cx="298.67" cy="96.1" r="1"/>
<circle cx="299.68" cy="106.53" r="1"/>
<circle cx="297.41" cy="65.67" r="1"/>
<circle cx="294.91" cy="93.17" r="1"/>
<circle cx="298.97" cy="98.57" r="1"/>
<circle cx="314.59" cy="77.96" r="1"/>
<circle cx="296.75" cy="75.71" r="1"/>
<circle cx="299.14" cy="84.35" r="1"/>
<circle cx="299.88" cy="80.39" r="1"/>
<circle cx="297.54" cy="101.57" r="1"/>
<circle cx="308.23" cy="74.87" r="1"/>
<circle cx="303.98" cy="79.51" r="1"/>
<circle cx="295.38" cy="62.64" r="1"/>
<circle cx="295.45" cy="58.01" r="1"/>
<circle cx="297.99" cy="81.96" r="1"/>
<circle cx="294.29" cy="66.12" r="1"/>
<circle cx="295.5" cy="82.35" r="1"/>
<circle cx="352.94" cy="76.86" r="1"/>
<circle cx="301.45" cy="85.06" r="1"/>
<circle cx="299.27" cy="77.29" r="1"/>
<circle cx="294.59" cy="70.88" r="1"/>
<circle cx="298.04" cy="66.67" r="1"/>
<circle cx="321.19" cy="60.85" r="1"/>
<circle cx="306.33" cy="99.98" r="1"/>
<circle cx="298.85" cy="83.91" r="1"/>
<circle cx="294.94" cy="97.1" r="1"/>
<circle cx="295.41" cy="70.83" r="1"/>
<circle cx="296.23" cy="73.83" r="1"/>
<circle cx="339.33" cy="83.15" r="1"/>
<circle cx="311.88" cy="59.97" r="1"/>
<circle cx="300.12" cy="81.29" r="1"/>
<circle cx="300.17" cy="74.51" r="1"/>
<circle cx="301.54" cy="73.06" r="1"/>
<circle cx="325.81" cy="75.48" r="1"/>
<circle cx="298.01" cy="73.99" r="1"/>
<circle cx="294.52" cy="85.71" r="1"/>
<circle cx="298.05" cy="76.5" r="1"/>
<circle cx="325.69" cy="76.87" r="1"/>
<circle cx="296.47" cy="77.7" r="1"/>
<circle cx="300.95" cy="63.87" r="1"/>
<circle cx="297.83" cy="90.39" r="1"/>
<circle cx="296.03" cy="68.45" r="1"/>
<circle cx="302.21" cy="57.02" r="1"/>
<circle cx="296.79" cy="79.09" r="1"/>
<circle cx="300.76" cy="75.34" r="1"/>
<circle cx="298.59" cy="89.28" r="1"/>
<circle cx="301.16" cy="62.29" r="1"/>
<circle cx="298.5" cy="90.79" r="1"/>
<circle cx="297.01" cy="57.08" r="1"/>
<circle cx="297.37" cy="85.5" r="1"/>
<circle cx="300.27" cy="68" r="1"/>
<circle cx="297.56" cy="83.03" r="1"/>
<circle cx="316.11" cy="75.05" r="1"/>
<circle cx="316.22" cy="83.68" r="1"/>
<circle cx="300.27" cy="63.22" r="1"/>
<circle cx="304.79" cy="75.36" r="1"/>
<circle cx="297.54" cy="84.91" r="1"/>
<circle cx="304.81" cy="89.29" r="1"/>
<circle cx="316.55" cy="78.64" r="1"/>
<circle cx="293.85" cy="106.37" r="1"/>
<circle cx="294.08" cy="89.94" r="1"/>
<circle cx="295" cy="80.6" r="1"/>
<circle cx="295.44" cy="90.04" r="1"/>
<circle cx="295.43" cy="87.14" r="1"/>
<circle cx="295.58" cy="84.36" r="1"/>
<circle cx="320.13" cy="83.46" r="1"/>
<circle cx="296.06" cy="77.07" r="1"/>
<circle cx="303.53" cy="83.78" r="1"/>
<circle cx="294.04" cy="81.43" r="1"/>
<circle cx="302.12" cy="61.06" r="1"/>
<circle cx="295.01" cy="93.23" r="1"/>
<circle cx="328.83" cy="92.6" r="1"/>
<circle cx="304.78" cy="73.84" r="1"/>
<circle cx="299.74" cy="70.34" r="1"/>
<circle cx="300.5" cy="89.48" r="1"/>
<circle cx="297.63" cy="106.24" r="1"/>
<circle cx="311.99" cy="89.43" r="1"/>
<circle cx="299.54" cy="77.82" r="1"/>
<circle cx="296.39" cy="86.62" r="1"/>
<circle cx="302.29" cy="84.68" r="1"/>
<circle cx="300.98" cy="71.22" r="1"/>
<circle cx="298.4" cy="72.05" r="1"/>
<circle cx="298.97" cy="79.57" r="1"/>
<circle cx="302.14" cy="75.85" r="1"/>
<circle cx="296.91" cy="73.73" r="1"/>
<circle cx="296.52" cy="74.36" r="1"/>
<circle cx="294.75" cy="67.32" r="1"/>
<circle cx="299.27" cy="80.18" r="1"/>
<circle cx="295.79" cy="89.49" r="1"/>
<circle cx="294.54" cy="88.44" r="1"/>
<circle cx="328.98" cy="69.12" r="1"/>
<circle cx="295.32" cy="67.07" r="1"/>
<circle cx="306.58" cy="70.63" r="1"/>
<circle cx="295.08" cy="80.12" r="1"/>
<circle cx="295.5" cy="87.84" r="1"/>
<circle cx="296.27" cy="72.4" r="1"/>
<circle cx="295.65" cy="69.5" r="1"/>
<circle cx="296.09" cy="97.53" r="1"/>
<circle cx="297.66" cy="78.78" r="1"/>
<circle cx="295.36" cy="83.79" r="1"/>
<circle cx="295.09" cy="77.5" r="1"/>
<circle cx="296.58" cy="61.16" r="1"/>
<circle cx="302.05" cy="63.34" r="1"/>
<circle cx="302.18" cy="63.34" r="1"/>
<circle cx="300.24" cy="81.62" r="1"/>
<circle cx="298.26" cy="90.15" r="1"/>
<circle cx="325.46" cy="71.35" r="1"/>
<circle cx="296.28" cy="67.29" r="1"/>
<circle cx="301.71" cy="78.74" r="1"/>
<circle cx="297.15" cy="70.78" r="1"/>
<circle cx="312.68" cy="81.11" r="1"/>
<circle cx="298.71" cy="65.6" r="1"/>
<circle cx="301.74" cy="92.07" r="1"/>
<circle cx="295.51" cy="80.46" r="1"/>
<circle cx="294.78" cy="77.2" r="1"/>
<circle cx="298.93" cy="84.75" r="1"/>
<circle cx="296.4" cy="83.2" r="1"/>
<circle cx="303.76" cy="86.6" r="1"/>
<circle cx="296.99" cy="75.68" r="1"/>
<circle cx="295.83" cy="73.64" r="1"/>
<circle cx="294.87" cy="67.79" r="1"/>
<circle cx="309.94" cy="82.65" r="1"/>
<circle cx="310.08" cy="71.87" r="1"/>
<circle cx="296.52" cy="81.88" r="1"/>
<circle cx="322.93" cy="93.74" r="1"/>
<circle cx="298.19" cy="80.15" r="1"/>
<circle cx="327.08" cy="71.26" r="1"/>
<circle cx="299.55" cy="75.39" r="1"/>
<circle cx="302.8" cy="81.42" r="1"/>
<circle cx="297.77" cy="55.54" r="1"/>
<circle cx="298.85" cy="75.21" r="1"/>
<circle cx="309.46" cy="73.01" r="1"/>
<circle cx="298.66" cy="64.48" r="1"/>
<circle cx="296.47" cy="80.39" r="1"/>
<circle cx="324.37" cy="67.36" r="1"/>
<circle cx="295.76" cy="62.92" r="1"/>
<circle cx="296.71" cy="83.88" r="1"/>
<circle cx="302.46" cy="71.69" r="1"/>
<circle cx="294.71" cy="71.45" r="1"/>
<circle cx="299.05" cy="82.83" r="1"/>
<circle cx="293.47" cy="97.93" r="1"/>
<circle cx="292.93" cy="112.69" r="1"/>
<circle cx="293.63" cy="105.88" r="1"/>
<circle cx="295.8" cy="105.09" r="1"/>
<circle cx="296.02" cy="112.81" r="1"/>
<circle cx="297.16" cy="107.35" r="1"/>
<circle cx="296.6" cy="114.22" r="1"/>
<circle cx="296.58" cy="109.91" r="1"/>
<circle cx="296.73" cy="97.2" r="1"/>
<circle cx="295.69" cy="108.78" r="1"/>
<circle cx="291.99" cy="110.71" r="1"/>
<circle cx="297.01" cy="111.42" r="1"/>
<circle cx="295.63" cy="101.96" r="1"/>
<circle cx="295.64" cy="110.92" r="1"/>
<circle cx="292.74" cy="112.76" r="1"/>
<circle cx="508.96" cy="61.35" r="1"/>
<circle cx="427.2" cy="84.47" r="1"/>
<circle cx="438.98" cy="69.46" r="1"/>
<circle cx="428.93" cy="64.09" r="1"/>
<circle cx="423.54" cy="68.72" r="1"/>
<circle cx="432.03" cy="57.19" r="1"/>
<circle cx="422.34" cy="71.34" r="1"/>
<circle cx="429.39" cy="63.95" r="1"/>
<circle cx="486.92" cy="75.93" r="1"/>
<circle cx="426.61" cy="63.42" r="1"/>
<circle cx="429.95" cy="80.78" r="1"/>
<circle cx="431.68" cy="61.07" r="1"/>
<circle cx="433.66" cy="92.27" r="1"/>
<circle cx="426.51" cy="76.67" r="1"/>
<circle cx="430.56" cy="60.83" r="1"/>
<circle cx="435.52" cy="82.94" r="1"/>
<circle cx="427.3" cy="77.29" r="1"/>
<circle cx="426.83" cy="64.63" r="1"/>
<circle cx="451.7" cy="77.42" r="1"/>
<circle cx="431.86" cy="69.92" r="1"/>
<circle cx="451.91" cy="87.52" r="1"/>
<circle cx="430.35" cy="80.33" r="1"/>
<circle cx="430.93" cy="84.39" r="1"/>
<circle cx="429.89" cy="79.98" r="1"/>
<circle cx="432.64" cy="72.44" r="1"/>
<circle cx="443.27" cy="72.38" r="1"/>
<circle cx="476.01" cy="75.08" r="1"/>
<circle cx="441.16" cy="76.84" r="1"/>
<circle cx="426.65" cy="81.24" r="1"/>
<circle cx="436.52" cy="71.73" r="1"/>
<circle cx="426.59" cy="51.48" r="1"/>
<circle cx="425.98" cy="77.67" r="1"/>
<circle cx="432.32" cy="90.83" r="1"/>
<circle cx="430.38" cy="58.96" r="1"/>
<circle cx="446.99" cy="86.32" r="1"/>
<circle cx="433.21" cy="85.31" r="1"/>
<circle cx="437.37" cy="72.44" r="1"/>
<circle cx="471.05" cy="74.64" r="1"/>
<circle cx="434.29" cy="69.52" r="1"/>
<circle cx="444.93" cy="67.97" r="1"/>
<circle cx="435" cy="71.38" r="1"/>
<circle cx="434.48" cy="36.38" r="1"/>
<circle cx="438" cy="79.56" r="1"/>
<circle cx="432.74" cy="97.55" r="1"/>
<circle cx="443.45" cy="69" r="1"/>
<circle cx="448.68" cy="59.2" r="1"/>
<circle cx="428.93" cy="83.87" r="1"/>
<circle cx="439.63" cy="77.38" r="1"/>
<circle cx="426" cy="61.59" r="1"/>
<circle cx="492.66" cy="96.71" r="1"/>
<circle cx="449.22" cy="83.8" r="1"/>
<circle cx="448.61" cy="80.2" r="1"/>
<circle cx="463.71" cy="60.69" r="1"/>
<circle cx="451.83" cy="77.16" r="1"/>
<circle cx="495.42" cy="74.13" r="1"/>
<circle cx="442.54" cy="69.95" r="1"/>
<circle cx="436.95" cy="97.93" r="1"/>
<circle cx="446.03" cy="72.75" r="1"/>
<circle cx="432.58" cy="93.01" r="1"/>
<circle cx="454.08" cy="68.7" r="1"/>
<circle cx="424.26" cy="85.92" r="1"/>
<circle cx="422.55" cy="91.22" r="1"/>
<circle cx="421.46" cy="85.64" r="1"/>
<circle cx="433.28" cy="73.31" r="1"/>
<circle cx="435.87" cy="83.51" r="1"/>
<circle cx="425.76" cy="71.53" r="1"/>
<circle cx="442.86" cy="63.83" r="1"/>
<circle cx="434.54" cy="69.26" r="1"/>
<circle cx="436.69" cy="84.47" r="1"/>
<circle cx="422.43" cy="75.18" r="1"/>
<circle cx="427.71" cy="76.79" r="1"/>
<circle cx="436.09" cy="76.61" r="1"/>
<circle cx="437.01" cy="83.52" r="1"/>
<circle cx="469.9" cy="101.4" r="1"/>
<circle cx="430.18" cy="66.74" r="1"/>
<circle cx="426.95" cy="74.38" r="1"/>
<circle cx="434.18" cy="73.85" r="1"/>
<circle cx="473.81" cy="70.81" r="1"/>
<circle cx="425.56" cy="62.6" r="1"/>
<circle cx="439.19" cy="65.58" r="1"/>
<circle cx="442.53" cy="83.99" r="1"/>
<circle cx="423.94" cy="82.36" r="1"/>
<circle cx="467.79" cy="82.26" r="1"/>
<circle cx="443.3" cy="83.39" r="1"/>
<circle cx="452.88" cy="64.44" r="1"/>
<circle cx="424.08" cy="51.09" r="1"/>
<circle cx="435.15" cy="88.27" r="1"/>
<circle cx="422.69" cy="67.93" r="1"/>
<circle cx="491.61" cy="73.87" r="1"/>
<circle cx="428.41" cy="56.09" r="1"/>
<circle cx="453.69" cy="53.19" r="1"/>
<circle cx="428.37" cy="75.44" r="1"/>
<circle cx="430" cy="89.65" r="1"/>
<circle cx="430.57" cy="82.98" r="1"/>
<circle cx="428.22" cy="59.29" r="1"/>
<circle cx="449.32" cy="78.67" r="1"/>
<circle cx="490.37" cy="83.52" r="1"/>
<circle cx="430.96" cy="66.28" r="1"/>
<circle cx="448.93" cy="61.59" r="1"/>
<circle cx="435.14" cy="63.63" r="1"/>
<circle cx="454.83" cy="74.36" r="1"/>
<circle cx="426.19" cy="65.11" r="1"/>
<circle cx="431.95" cy="46.26" r="1"/>
<circle cx="426.72" cy="83.51" r="1"/>
<circle cx="444.65" cy="78.96" r="1"/>
<circle cx="436.44" cy="74.57" r="1"/>
<circle cx="436.63" cy="65.4" r="1"/>
<circle cx="428.99" cy="63.73" r="1"/>
<circle cx="443.48" cy="80.4" r="1"/>
<circle cx="432.26" cy="63.16" r="1"/>
<circle cx="439.07" cy="89.19" r="1"/>
<circle cx="430.89" cy="79.79" r="1"/>
<circle cx="437.07" cy="80.57" r="1"/>
<circle cx="426.71" cy="80.1" r="1"/>
<circle cx="422.74" cy="67.26" r="1"/>
<circle cx="422.71" cy="65.81" r="1"/>
<circle cx="428.27" cy="61.28" r="1"/>
<circle cx="444.9" cy="67.95" r="1"/>
<circle cx="431.27" cy="78.87" r="1"/>
<circle cx="422.87" cy="96.62" r="1"/>
<circle cx="445.39" cy="72.16" r="1"/>
<circle cx="492.5" cy="84.77" r="1"/>
<circle cx="421.62" cy="61.39" r="1"/>
<circle cx="435.32" cy="53.32" r="1"/>
<circle cx="422.02" cy="76.04" r="1"/>
<circle cx="452.98" cy="76.02" r="1"/>
<circle cx="432.18" cy="95.41" r="1"/>
<circle cx="441.41" cy="74.15" r="1"/>
<circle cx="425.51" cy="77.8" r="1"/>
<circle cx="448.75" cy="70.53" r="1"/>
<circle cx="447.55" cy="79.23" r="1"/>
<circle cx="441.3" cy="87.93" r="1"/>
<circle cx="449.88" cy="87.31" r="1"/>
<circle cx="423.18" cy="78.75" r="1"/>
<circle cx="430.88" cy="90.35" r="1"/>
<circle cx="422.09" cy="86.29" r="1"/>
<circle cx="431.21" cy="66.22" r="1"/>
<circle cx="422.25" cy="100.61" r="1"/>
<circle cx="433.82" cy="75.2" r="1"/>
<circle cx="432.62" cy="77.92" r="1"/>
<circle cx="427.71" cy="78.24" r="1"/>
<circle cx="436.72" cy="69.52" r="1"/>
<circle cx="430.8" cy="76.8" r="1"/>
<circle cx="425.15" cy="71.38" r="1"/>
<circle cx="439.18" cy="80.83" r="1"/>
<circle cx="437.5" cy="71.83" r="1"/>
<circle cx="449.45" cy="81.13" r="1"/>
<circle cx="441.21" cy="70.22" r="1"/>
<circle cx="423.34" cy="74.2" r="1"/>
<circle cx="423.02" cy="86.77" r="1"/>
<circle cx="423.86" cy="66.11" r="1"/>
<circle cx="432.09" cy="51.94" r="1"/>
<circle cx="496.5" cy="64.3" r="1"/>
<circle cx="448.94" cy="76.23" r="1"/>
<circle cx="434.91" cy="64.83" r="1"/>
<circle cx="445.96" cy="83.54" r="1"/>
<circle cx="431.82" cy="81.23" r="1"/>
<circle cx="433.18" cy="75.03" r="1"/>
<circle cx="422.36" cy="68.31" r="1"/>
<circle cx="439.73" cy="75.25" r="1"/>
<circle cx="455.17" cy="59.8" r="1"/>
<circle cx="454.31" cy="58.39" r="1"/>
<circle cx="423.48" cy="82.37" r="1"/>
<circle cx="443.06" cy="72.07" r="1"/>
<circle cx="443.24" cy="74.76" r="1"/>
<circle cx="436.21" cy="96.81" r="1"/>
<circle cx="427.24" cy="67.28" r="1"/>
<circle cx="431.26" cy="57.82" r="1"/>
<circle cx="423.2" cy="69.67" r="1"/>
<circle cx="432" cy="71.72" r="1"/>
<circle cx="503.48" cy="86.12" r="1"/>
<circle cx="437.88" cy="71.34" r="1"/>
<circle cx="427.09" cy="85.96" r="1"/>
<circle cx="427.15" cy="73.89" r="1"/>
<circle cx="490.4" cy="71.58" r="1"/>
<circle cx="507.95" cy="90.37" r="1"/>
<circle cx="434.23" cy="65.84" r="1"/>
<circle cx="423.97" cy="66.24" r="1"/>
<circle cx="430.51" cy="74.94" r="1"/>
<circle cx="448.66" cy="72.83" r="1"/>
<circle cx="443.26" cy="67.66" r="1"/>
<circle cx="435.33" cy="69.66" r="1"/>
<circle cx="452.12" cy="89.54" r="1"/>
<circle cx="431.05" cy="72.87" r="1"/>
<circle cx="444.24" cy="62.15" r="1"/>
<circle cx="435.43" cy="70.09" r="1"/>
<circle cx="436.96" cy="85.17" r="1"/>
<circle cx="422.46" cy="57.73" r="1"/>
<circle cx="434.44" cy="84.82" r="1"/>
<circle cx="446.15" cy="71.82" r="1"/>
<circle cx="424.27" cy="87.52" r="1"/>
<circle cx="439.09" cy="55.09" r="1"/>
<circle cx="434.57" cy="70.74" r="1"/>
<circle cx="459.15" cy="89" r="1"/>
<circle cx="443.37" cy="61.7" r="1"/>
<circle cx="422.63" cy="48.81" r="1"/>
<circle cx="422.63" cy="57.11" r="1"/>
<circle cx="431.05" cy="48.44" r="1"/>
<circle cx="423.09" cy="96.31" r="1"/>
<circle cx="453.3" cy="74.38" r="1"/>
<circle cx="433.88" cy="73.63" r="1"/>
<circle cx="490.39" cy="79.02" r="1"/>
<circle cx="431.51" cy="80.02" r="1"/>
<circle cx="439.13" cy="61.9" r="1"/>
<circle cx="503.78" cy="52.34" r="1"/>
<circle cx="430.33" cy="68.22" r="1"/>
<circle cx="442" cy="85.6" r="1"/>
<circle cx="424" cy="60.81" r="1"/>
<circle cx="432.87" cy="74.95" r="1"/>
<circle cx="422.14" cy="73.04" r="1"/>
<circle cx="449.55" cy="79.3" r="1"/>
<circle cx="428.51" cy="72.39" r="1"/>
<circle cx="443.81" cy="54.56" r="1"/>
<circle cx="428.42" cy="69.94" r="1"/>
<circle cx="450.88" cy="70.91" r="1"/>
<circle cx="427.7" cy="79.94" r="1"/>
<circle cx="440.56" cy="97.84" r="1"/>
<circle cx="421.54" cy="92.81" r="1"/>
<circle cx="437.68" cy="62.77" r="1"/>
<circle cx="423.05" cy="75.4" r="1"/>
<circle cx="422.96" cy="84.1" r="1"/>
<circle cx="491.86" cy="66.84" r="1"/>
<circle cx="446.25" cy="97.18" r="1"/>
<circle cx="424.83" cy="93.34" r="1"/>
<circle cx="433.1" cy="78.67" r="1"/>
<circle cx="472.98" cy="76.13" r="1"/>
<circle cx="425.38" cy="79.53" r="1"/>
<circle cx="434.83" cy="102.9" r="1"/>
<circle cx="453.75" cy="62.97" r="1"/>
<circle cx="450.43" cy="55.45" r="1"/>
<circle cx="429.76" cy="73.84" r="1"/>
<circle cx="436.84" cy="71.09" r="1"/>
<circle cx="465.64" cy="51.04" r="1"/>
<circle cx="448.28" cy="58.76" r="1"/>
<circle cx="422.78" cy="57.57" r="1"/>
<circle cx="425.35" cy="114.01" r="1"/>
<circle cx="423.89" cy="107.61" r="1"/>
<circle cx="421.99" cy="124.93" r="1"/>
<circle cx="421.07" cy="97.91" r="1"/>
<circle cx="421.58" cy="94.12" r="1"/>
<circle cx="422.61" cy="102.36" r="1"/>
<circle cx="421.62" cy="100.12" r="1"/>
<circle cx="422.12" cy="114.59" r="1"/>
<circle cx="423.32" cy="123.33" r="1"/>
<circle cx="422.1" cy="99.85" r="1"/>
<circle cx="422.27" cy="114.09" r="1"/>
<circle cx="424.39" cy="119.47" r="1"/>
<circle cx="421.86" cy="119.64" r="1"/>
<circle cx="422.7" cy="114.62" r="1"/>
</g>
<polyline points="33.3,80.4 39.4,68.6 45.3,69.3 51.2,70.1 57.3,65.5 63,65.2 68.9,74.6 75.2,68.3 80.7,69.1 86.9,69.4 92.9,59.7 98.4,70.7 103.9,70.7 116.5,100.8" fill="none" stroke="#2e2f5e" stroke-width="1.3" stroke-linejoin="round"/>
<polyline points="162.8,84.9 165.6,81.2 168.4,77.4 171.2,74.6 174.5,76 177.8,76.5 180.2,77.9 183.5,76.9 187.3,75.8 191.8,82 200,70.7 209.4,73 215.7,76.2 221.9,65.2 227.9,76.2 232.9,75.4 239.5,98.9 245.8,67.2" fill="none" stroke="#2e2f5e" stroke-width="1.3" stroke-linejoin="round"/>
<polyline points="292.1,83.8 294.6,76.3 296.5,75 301.5,74.4 307.8,75 314.1,76.9 320.3,80.7 326.9,80.1 332.8,100 357.1,76.5 368.1,73.3" fill="none" stroke="#2e2f5e" stroke-width="1.3" stroke-linejoin="round"/>
<polyline points="421.1,84.4 427.4,73.8 431.8,73.5 438,67.5 444.3,71.7 451.2,67.2 461.9,71.3 473.8,71.3 480,75.4 485.7,70.4 491.7,82.6 497.8,71 503.8,76.9" fill="none" stroke="#2e2f5e" stroke-width="1.3" stroke-linejoin="round"/>
<path d="M37,220 C37.5,219.42 38.82,217.8 40,216.5 C41.18,215.2 42.63,214.02 44.1,212.2 C45.57,210.38 47.38,207.32 48.8,205.6 C50.22,203.88 51.57,202.68 52.6,201.9 C53.63,201.12 54.02,201.02 55,200.9 C55.98,200.78 57.25,201.12 58.5,201.2 C59.75,201.28 60.92,201.47 62.5,201.4 C64.08,201.33 66.12,201.03 68,200.8 C69.88,200.57 72.05,200.25 73.8,200 C75.55,199.75 76.93,199.47 78.5,199.3 C80.07,199.13 81.17,199.13 83.2,199 C85.23,198.87 88.57,198.73 90.7,198.5 C92.83,198.27 94.23,197.8 96,197.6 C97.77,197.4 99.48,197.15 101.3,197.3 C103.12,197.45 105.03,197.93 106.9,198.5 C108.77,199.07 110.57,199.95 112.5,200.7 C114.43,201.45 117.5,202.62 118.5,203 L118.5,219.5 C117.5,219.08 114.43,217.68 112.5,217 C110.57,216.32 108.77,216.05 106.9,215.4 C105.03,214.75 103.12,213.62 101.3,213.1 C99.48,212.58 97.77,212.52 96,212.3 C94.23,212.08 92.83,211.78 90.7,211.8 C88.57,211.82 85.23,212.13 83.2,212.4 C81.17,212.67 80.07,213.03 78.5,213.4 C76.93,213.77 75.55,214.23 73.8,214.6 C72.05,214.97 69.88,215.28 68,215.6 C66.12,215.92 64.08,216.47 62.5,216.5 C60.92,216.53 59.75,216.13 58.5,215.8 C57.25,215.47 55.98,214.33 55,214.5 C54.02,214.67 53.63,215.62 52.6,216.8 C51.57,217.98 50.22,219.73 48.8,221.6 C47.38,223.47 45.57,225.43 44.1,228 C42.63,230.57 41.18,233.83 40,237 C38.82,240.17 37.5,245.33 37,247 Z" fill="#c5cbe1" stroke="none"/>
<path d="M37,220 C37.5,219.42 38.82,217.8 40,216.5 C41.18,215.2 42.63,214.02 44.1,212.2 C45.57,210.38 47.38,207.32 48.8,205.6 C50.22,203.88 51.57,202.68 52.6,201.9 C53.63,201.12 54.02,201.02 55,200.9 C55.98,200.78 57.25,201.12 58.5,201.2 C59.75,201.28 60.92,201.47 62.5,201.4 C64.08,201.33 66.12,201.03 68,200.8 C69.88,200.57 72.05,200.25 73.8,200 C75.55,199.75 76.93,199.47 78.5,199.3 C80.07,199.13 81.17,199.13 83.2,199 C85.23,198.87 88.57,198.73 90.7,198.5 C92.83,198.27 94.23,197.8 96,197.6 C97.77,197.4 99.48,197.15 101.3,197.3 C103.12,197.45 105.03,197.93 106.9,198.5 C108.77,199.07 110.57,199.95 112.5,200.7 C114.43,201.45 117.5,202.62 118.5,203" fill="none" stroke="#8e95c2" stroke-width="0.7"/>
<path d="M37,247 C37.5,245.33 38.82,240.17 40,237 C41.18,233.83 42.63,230.57 44.1,228 C45.57,225.43 47.38,223.47 48.8,221.6 C50.22,219.73 51.57,217.98 52.6,216.8 C53.63,215.62 54.02,214.67 55,214.5 C55.98,214.33 57.25,215.47 58.5,215.8 C59.75,216.13 60.92,216.53 62.5,216.5 C64.08,216.47 66.12,215.92 68,215.6 C69.88,215.28 72.05,214.97 73.8,214.6 C75.55,214.23 76.93,213.77 78.5,213.4 C80.07,213.03 81.17,212.67 83.2,212.4 C85.23,212.13 88.57,211.82 90.7,211.8 C92.83,211.78 94.23,212.08 96,212.3 C97.77,212.52 99.48,212.58 101.3,213.1 C103.12,213.62 105.03,214.75 106.9,215.4 C108.77,216.05 110.57,216.32 112.5,217 C114.43,217.68 117.5,219.08 118.5,219.5" fill="none" stroke="#8e95c2" stroke-width="0.7"/>
<path d="M37,233 C37.5,232 38.82,229.13 40,227 C41.18,224.87 42.63,222.5 44.1,220.2 C45.57,217.9 47.38,215.08 48.8,213.2 C50.22,211.32 51.57,209.73 52.6,208.9 C53.63,208.07 54.02,208.25 55,208.2 C55.98,208.15 57.25,208.52 58.5,208.6 C59.75,208.68 60.92,208.73 62.5,208.7 C64.08,208.67 66.12,208.52 68,208.4 C69.88,208.28 72.05,208.18 73.8,208 C75.55,207.82 76.93,207.53 78.5,207.3 C80.07,207.07 81.17,206.98 83.2,206.6 C85.23,206.22 88.57,205.33 90.7,205 C92.83,204.67 94.23,204.65 96,204.6 C97.77,204.55 99.48,204.42 101.3,204.7 C103.12,204.98 105.03,205.65 106.9,206.3 C108.77,206.95 110.57,207.75 112.5,208.6 C114.43,209.45 117.5,210.93 118.5,211.4" fill="none" stroke="#525b90" stroke-width="0.95"/>
<path d="M165.6,243 C166.23,241.58 168.13,237.33 169.4,234.5 C170.67,231.67 171.95,228.17 173.2,226 C174.45,223.83 175.97,222.37 176.9,221.5 C177.83,220.63 177.85,220.8 178.8,220.8 C179.75,220.8 181.35,221.22 182.6,221.5 C183.85,221.78 185.2,222.22 186.3,222.5 C187.4,222.78 187.35,223.37 189.2,223.2 C191.05,223.03 194.47,222.42 197.4,221.5 C200.33,220.58 203.67,218.8 206.8,217.7 C209.93,216.6 213.67,215.53 216.2,214.9 C218.73,214.27 219.8,214.22 222,213.9 C224.2,213.58 226.6,213.28 229.4,213 C232.2,212.72 235.72,212.33 238.8,212.2 C241.88,212.07 246.38,212.2 247.9,212.2 L247.9,223 C246.38,223 241.88,222.92 238.8,223 C235.72,223.08 232.2,223.52 229.4,223.5 C226.6,223.48 224.2,222.85 222,222.9 C219.8,222.95 218.73,223.25 216.2,223.8 C213.67,224.35 209.93,225.18 206.8,226.2 C203.67,227.22 200.33,229 197.4,229.9 C194.47,230.8 191.05,231.58 189.2,231.6 C187.35,231.62 187.4,230.68 186.3,230 C185.2,229.32 183.85,228.08 182.6,227.5 C181.35,226.92 179.75,226.58 178.8,226.5 C177.85,226.42 177.83,226.08 176.9,227 C175.97,227.92 174.45,229.75 173.2,232 C171.95,234.25 170.67,236.67 169.4,240.5 C168.13,244.33 166.23,252.58 165.6,255 Z" fill="#c5cbe1" stroke="none"/>
<path d="M165.6,243 C166.23,241.58 168.13,237.33 169.4,234.5 C170.67,231.67 171.95,228.17 173.2,226 C174.45,223.83 175.97,222.37 176.9,221.5 C177.83,220.63 177.85,220.8 178.8,220.8 C179.75,220.8 181.35,221.22 182.6,221.5 C183.85,221.78 185.2,222.22 186.3,222.5 C187.4,222.78 187.35,223.37 189.2,223.2 C191.05,223.03 194.47,222.42 197.4,221.5 C200.33,220.58 203.67,218.8 206.8,217.7 C209.93,216.6 213.67,215.53 216.2,214.9 C218.73,214.27 219.8,214.22 222,213.9 C224.2,213.58 226.6,213.28 229.4,213 C232.2,212.72 235.72,212.33 238.8,212.2 C241.88,212.07 246.38,212.2 247.9,212.2" fill="none" stroke="#8e95c2" stroke-width="0.7"/>
<path d="M165.6,255 C166.23,252.58 168.13,244.33 169.4,240.5 C170.67,236.67 171.95,234.25 173.2,232 C174.45,229.75 175.97,227.92 176.9,227 C177.83,226.08 177.85,226.42 178.8,226.5 C179.75,226.58 181.35,226.92 182.6,227.5 C183.85,228.08 185.2,229.32 186.3,230 C187.4,230.68 187.35,231.62 189.2,231.6 C191.05,231.58 194.47,230.8 197.4,229.9 C200.33,229 203.67,227.22 206.8,226.2 C209.93,225.18 213.67,224.35 216.2,223.8 C218.73,223.25 219.8,222.95 222,222.9 C224.2,222.85 226.6,223.48 229.4,223.5 C232.2,223.52 235.72,223.08 238.8,223 C241.88,222.92 246.38,223 247.9,223" fill="none" stroke="#8e95c2" stroke-width="0.7"/>
<path d="M165.6,249 C166.23,247.05 168.13,240.67 169.4,237.3 C170.67,233.93 171.95,231 173.2,228.8 C174.45,226.6 175.97,225.03 176.9,224.1 C177.83,223.17 177.85,223.2 178.8,223.2 C179.75,223.2 181.35,223.72 182.6,224.1 C183.85,224.48 185.2,225.1 186.3,225.5 C187.4,225.9 187.35,226.55 189.2,226.5 C191.05,226.45 194.47,225.97 197.4,225.2 C200.33,224.43 203.67,222.77 206.8,221.9 C209.93,221.03 213.67,220.47 216.2,220 C218.73,219.53 219.8,219.38 222,219.1 C224.2,218.82 226.6,218.5 229.4,218.3 C232.2,218.1 235.72,217.97 238.8,217.9 C241.88,217.83 246.38,217.9 247.9,217.9" fill="none" stroke="#525b90" stroke-width="0.95"/>
<path d="M295.2,236.5 C295.58,235.83 296.8,233.68 297.5,232.5 C298.2,231.32 298.77,230.48 299.4,229.4 C300.03,228.32 300.67,227.1 301.3,226 C301.93,224.9 302.58,223.67 303.2,222.8 C303.82,221.93 304.38,221.38 305,220.8 C305.62,220.22 306.27,219.67 306.9,219.3 C307.53,218.93 308.18,218.7 308.8,218.6 C309.42,218.5 309.97,218.63 310.6,218.7 C311.23,218.77 311.33,218.78 312.6,219 C313.87,219.22 316.13,219.87 318.2,220 C320.27,220.13 322.42,219.95 325,219.8 C327.58,219.65 330.87,219.2 333.7,219.1 C336.53,219 339.28,219.13 342,219.2 C344.72,219.27 346.17,219.83 350,219.5 C353.83,219.17 360.45,218.3 365,217.2 C369.55,216.1 375.25,213.62 377.3,212.9 L377.3,247.4 C375.25,246.67 369.55,244.35 365,243 C360.45,241.65 353.83,240.47 350,239.3 C346.17,238.13 344.72,237.07 342,236 C339.28,234.93 336.53,233.82 333.7,232.9 C330.87,231.98 327.58,231.23 325,230.5 C322.42,229.77 320.27,229.15 318.2,228.5 C316.13,227.85 313.87,227.1 312.6,226.6 C311.33,226.1 311.23,225.67 310.6,225.5 C309.97,225.33 309.42,225.35 308.8,225.6 C308.18,225.85 307.53,226.3 306.9,227 C306.27,227.7 305.62,228.85 305,229.8 C304.38,230.75 303.82,231.67 303.2,232.7 C302.58,233.73 301.93,234.9 301.3,236 C300.67,237.1 300.03,238.05 299.4,239.3 C298.77,240.55 298.2,242.13 297.5,243.5 C296.8,244.87 295.58,246.83 295.2,247.5 Z" fill="#c5cbe1" stroke="none"/>
<path d="M295.2,236.5 C295.58,235.83 296.8,233.68 297.5,232.5 C298.2,231.32 298.77,230.48 299.4,229.4 C300.03,228.32 300.67,227.1 301.3,226 C301.93,224.9 302.58,223.67 303.2,222.8 C303.82,221.93 304.38,221.38 305,220.8 C305.62,220.22 306.27,219.67 306.9,219.3 C307.53,218.93 308.18,218.7 308.8,218.6 C309.42,218.5 309.97,218.63 310.6,218.7 C311.23,218.77 311.33,218.78 312.6,219 C313.87,219.22 316.13,219.87 318.2,220 C320.27,220.13 322.42,219.95 325,219.8 C327.58,219.65 330.87,219.2 333.7,219.1 C336.53,219 339.28,219.13 342,219.2 C344.72,219.27 346.17,219.83 350,219.5 C353.83,219.17 360.45,218.3 365,217.2 C369.55,216.1 375.25,213.62 377.3,212.9" fill="none" stroke="#8e95c2" stroke-width="0.7"/>
<path d="M295.2,247.5 C295.58,246.83 296.8,244.87 297.5,243.5 C298.2,242.13 298.77,240.55 299.4,239.3 C300.03,238.05 300.67,237.1 301.3,236 C301.93,234.9 302.58,233.73 303.2,232.7 C303.82,231.67 304.38,230.75 305,229.8 C305.62,228.85 306.27,227.7 306.9,227 C307.53,226.3 308.18,225.85 308.8,225.6 C309.42,225.35 309.97,225.33 310.6,225.5 C311.23,225.67 311.33,226.1 312.6,226.6 C313.87,227.1 316.13,227.85 318.2,228.5 C320.27,229.15 322.42,229.77 325,230.5 C327.58,231.23 330.87,231.98 333.7,232.9 C336.53,233.82 339.28,234.93 342,236 C344.72,237.07 346.17,238.13 350,239.3 C353.83,240.47 360.45,241.65 365,243 C369.55,244.35 375.25,246.67 377.3,247.4" fill="none" stroke="#8e95c2" stroke-width="0.7"/>
<path d="M295.2,242 C295.58,241.38 296.8,239.55 297.5,238.3 C298.2,237.05 298.77,235.58 299.4,234.5 C300.03,233.42 300.67,232.8 301.3,231.8 C301.93,230.8 302.58,229.6 303.2,228.5 C303.82,227.4 304.38,226.07 305,225.2 C305.62,224.33 306.27,223.78 306.9,223.3 C307.53,222.82 308.18,222.42 308.8,222.3 C309.42,222.18 309.97,222.43 310.6,222.6 C311.23,222.77 311.33,223.03 312.6,223.3 C313.87,223.57 316.13,223.83 318.2,224.2 C320.27,224.57 322.42,224.97 325,225.5 C327.58,226.03 330.87,226.85 333.7,227.4 C336.53,227.95 339.28,228.4 342,228.8 C344.72,229.2 346.17,229.6 350,229.8 C353.83,230 360.45,229.93 365,230 C369.55,230.07 375.25,230.17 377.3,230.2" fill="none" stroke="#525b90" stroke-width="0.95"/>
<path d="M424.4,240 C425,238.75 427.17,234.25 428,232.5 C428.83,230.75 428.7,231.37 429.4,229.5 C430.1,227.63 431.42,223.3 432.2,221.3 C432.98,219.3 433.55,218.52 434.1,217.5 C434.65,216.48 434.95,215.82 435.5,215.2 C436.05,214.58 436.85,214.03 437.4,213.8 C437.95,213.57 438.25,213.73 438.8,213.8 C439.35,213.87 440.07,214.25 440.7,214.2 C441.33,214.15 442.13,213.8 442.6,213.5 C443.07,213.2 443.03,212.9 443.5,212.4 C443.97,211.9 444.62,211.57 445.4,210.5 C446.18,209.43 447.22,207.22 448.2,206 C449.18,204.78 450.17,203.82 451.3,203.2 C452.43,202.58 452.92,202.3 455,202.3 C457.08,202.3 459.63,202.75 463.8,203.2 C467.97,203.65 475.55,204.58 480,205 C484.45,205.42 486.2,205.8 490.5,205.7 C494.8,205.6 503.25,204.62 505.8,204.4 L505.8,223.6 C503.25,222.8 494.8,220.12 490.5,218.8 C486.2,217.48 484.45,216.53 480,215.7 C475.55,214.87 467.97,214.12 463.8,213.8 C459.63,213.48 457.08,213.68 455,213.8 C452.92,213.92 452.43,213.1 451.3,214.5 C450.17,215.9 449.18,219.95 448.2,222.2 C447.22,224.45 446.18,226.27 445.4,228 C444.62,229.73 443.97,231.83 443.5,232.6 C443.03,233.37 443.07,233.45 442.6,232.6 C442.13,231.75 441.33,229.07 440.7,227.5 C440.07,225.93 439.35,223.78 438.8,223.2 C438.25,222.62 437.95,223.45 437.4,224 C436.85,224.55 436.05,225.42 435.5,226.5 C434.95,227.58 434.65,229.08 434.1,230.5 C433.55,231.92 432.98,233.33 432.2,235 C431.42,236.67 430.1,239 429.4,240.5 C428.7,242 428.83,240.33 428,244 C427.17,247.67 425,259.42 424.4,262.5 Z" fill="#c5cbe1" stroke="none"/>
<path d="M424.4,240 C425,238.75 427.17,234.25 428,232.5 C428.83,230.75 428.7,231.37 429.4,229.5 C430.1,227.63 431.42,223.3 432.2,221.3 C432.98,219.3 433.55,218.52 434.1,217.5 C434.65,216.48 434.95,215.82 435.5,215.2 C436.05,214.58 436.85,214.03 437.4,213.8 C437.95,213.57 438.25,213.73 438.8,213.8 C439.35,213.87 440.07,214.25 440.7,214.2 C441.33,214.15 442.13,213.8 442.6,213.5 C443.07,213.2 443.03,212.9 443.5,212.4 C443.97,211.9 444.62,211.57 445.4,210.5 C446.18,209.43 447.22,207.22 448.2,206 C449.18,204.78 450.17,203.82 451.3,203.2 C452.43,202.58 452.92,202.3 455,202.3 C457.08,202.3 459.63,202.75 463.8,203.2 C467.97,203.65 475.55,204.58 480,205 C484.45,205.42 486.2,205.8 490.5,205.7 C494.8,205.6 503.25,204.62 505.8,204.4" fill="none" stroke="#8e95c2" stroke-width="0.7"/>
<path d="M424.4,262.5 C425,259.42 427.17,247.67 428,244 C428.83,240.33 428.7,242 429.4,240.5 C430.1,239 431.42,236.67 432.2,235 C432.98,233.33 433.55,231.92 434.1,230.5 C434.65,229.08 434.95,227.58 435.5,226.5 C436.05,225.42 436.85,224.55 437.4,224 C437.95,223.45 438.25,222.62 438.8,223.2 C439.35,223.78 440.07,225.93 440.7,227.5 C441.33,229.07 442.13,231.75 442.6,232.6 C443.07,233.45 443.03,233.37 443.5,232.6 C443.97,231.83 444.62,229.73 445.4,228 C446.18,226.27 447.22,224.45 448.2,222.2 C449.18,219.95 450.17,215.9 451.3,214.5 C452.43,213.1 452.92,213.92 455,213.8 C457.08,213.68 459.63,213.48 463.8,213.8 C467.97,214.12 475.55,214.87 480,215.7 C484.45,216.53 486.2,217.48 490.5,218.8 C494.8,220.12 503.25,222.8 505.8,223.6" fill="none" stroke="#8e95c2" stroke-width="0.7"/>
<path d="M424.4,250 C425,247.92 427.17,240.08 428,237.5 C428.83,234.92 428.7,236 429.4,234.5 C430.1,233 431.42,230.15 432.2,228.5 C432.98,226.85 433.55,225.68 434.1,224.6 C434.65,223.52 434.95,222.72 435.5,222 C436.05,221.28 436.85,220.58 437.4,220.3 C437.95,220.02 438.25,220.13 438.8,220.3 C439.35,220.47 440.07,220.9 440.7,221.3 C441.33,221.7 442.13,222.58 442.6,222.7 C443.07,222.82 443.03,222.55 443.5,222 C443.97,221.45 444.62,220.77 445.4,219.4 C446.18,218.03 447.22,215.37 448.2,213.8 C449.18,212.23 450.17,210.8 451.3,210 C452.43,209.2 452.92,209.1 455,209 C457.08,208.9 459.63,209.12 463.8,209.4 C467.97,209.68 475.55,210.28 480,210.7 C484.45,211.12 486.2,211.38 490.5,211.9 C494.8,212.42 503.25,213.48 505.8,213.8" fill="none" stroke="#525b90" stroke-width="0.95"/>
<line x1="56.6" y1="179.0" x2="56.6" y2="286.9" stroke="#a44f72" stroke-width="1.5" stroke-dasharray="5 6.1" stroke-dashoffset="-3.1"/>
<line x1="178.7" y1="179.0" x2="178.7" y2="286.9" stroke="#a44f72" stroke-width="1.5" stroke-dasharray="5 6.1" stroke-dashoffset="-3.1"/>
<line x1="309.3" y1="179.0" x2="309.3" y2="286.9" stroke="#a44f72" stroke-width="1.5" stroke-dasharray="5 6.1" stroke-dashoffset="-3.1"/>
<line x1="437.7" y1="179.0" x2="437.7" y2="286.9" stroke="#a44f72" stroke-width="1.5" stroke-dasharray="5 6.1" stroke-dashoffset="-3.1"/>
<rect x="29.5" y="26.5" width="97" height="107.8" fill="none" stroke="#3a3a3a" stroke-width="1.1"/>
<path d="M26.2,129.6H29.5M26.2,117.35H29.5M26.2,105.1H29.5M26.2,92.85H29.5M26.2,80.6H29.5M26.2,68.35H29.5M26.2,56.1H29.5M26.2,43.85H29.5M26.2,31.6H29.5M33.5,134.3V137.3M39.4,134.3V137.3M45.3,134.3V137.3M51.2,134.3V137.3M57.1,134.3V137.3M63,134.3V137.3M68.9,134.3V137.3M74.8,134.3V137.3M80.7,134.3V137.3M86.6,134.3V137.3M92.5,134.3V137.3M98.4,134.3V137.3M104.3,134.3V137.3M110.2,134.3V137.3M116.1,134.3V137.3M122,134.3V137.3" stroke="#505050" stroke-width="0.9" fill="none"/>
<rect x="158.57" y="26.5" width="97" height="107.8" fill="none" stroke="#3a3a3a" stroke-width="1.1"/>
<path d="M155.27,129.6H158.57M155.27,117.35H158.57M155.27,105.1H158.57M155.27,92.85H158.57M155.27,80.6H158.57M155.27,68.35H158.57M155.27,56.1H158.57M155.27,43.85H158.57M155.27,31.6H158.57M162.57,134.3V137.3M168.47,134.3V137.3M174.37,134.3V137.3M180.27,134.3V137.3M186.17,134.3V137.3M192.07,134.3V137.3M197.97,134.3V137.3M203.87,134.3V137.3M209.77,134.3V137.3M215.67,134.3V137.3M221.57,134.3V137.3M227.47,134.3V137.3M233.37,134.3V137.3M239.27,134.3V137.3M245.17,134.3V137.3M251.07,134.3V137.3" stroke="#505050" stroke-width="0.9" fill="none"/>
<rect x="287.64" y="26.5" width="97" height="107.8" fill="none" stroke="#3a3a3a" stroke-width="1.1"/>
<path d="M284.34,129.6H287.64M284.34,117.35H287.64M284.34,105.1H287.64M284.34,92.85H287.64M284.34,80.6H287.64M284.34,68.35H287.64M284.34,56.1H287.64M284.34,43.85H287.64M284.34,31.6H287.64M291.64,134.3V137.3M297.54,134.3V137.3M303.44,134.3V137.3M309.34,134.3V137.3M315.24,134.3V137.3M321.14,134.3V137.3M327.04,134.3V137.3M332.94,134.3V137.3M338.84,134.3V137.3M344.74,134.3V137.3M350.64,134.3V137.3M356.54,134.3V137.3M362.44,134.3V137.3M368.34,134.3V137.3M374.24,134.3V137.3M380.14,134.3V137.3" stroke="#505050" stroke-width="0.9" fill="none"/>
<rect x="416.71" y="26.5" width="97" height="107.8" fill="none" stroke="#3a3a3a" stroke-width="1.1"/>
<path d="M413.41,129.6H416.71M413.41,117.35H416.71M413.41,105.1H416.71M413.41,92.85H416.71M413.41,80.6H416.71M413.41,68.35H416.71M413.41,56.1H416.71M413.41,43.85H416.71M413.41,31.6H416.71M420.71,134.3V137.3M426.61,134.3V137.3M432.51,134.3V137.3M438.41,134.3V137.3M444.31,134.3V137.3M450.21,134.3V137.3M456.11,134.3V137.3M462.01,134.3V137.3M467.91,134.3V137.3M473.81,134.3V137.3M479.71,134.3V137.3M485.61,134.3V137.3M491.51,134.3V137.3M497.41,134.3V137.3M503.31,134.3V137.3M509.21,134.3V137.3" stroke="#505050" stroke-width="0.9" fill="none"/>
<rect x="29.5" y="179" width="97" height="107.9" fill="none" stroke="#3a3a3a" stroke-width="1.1"/>
<path d="M26.2,282.1H29.5M26.2,257.5H29.5M26.2,232.9H29.5M26.2,208.3H29.5M26.2,183.7H29.5M33.5,286.9V289.5M42.34,286.9V289.5M51.18,286.9V289.5M60.02,286.9V289.5M68.86,286.9V289.5M77.7,286.9V289.5M86.54,286.9V289.5M95.38,286.9V289.5M104.22,286.9V289.5M113.06,286.9V289.5M121.9,286.9V289.5" stroke="#505050" stroke-width="0.9" fill="none"/>
<rect x="158.57" y="179" width="97" height="107.9" fill="none" stroke="#3a3a3a" stroke-width="1.1"/>
<path d="M155.27,282.1H158.57M155.27,257.5H158.57M155.27,232.9H158.57M155.27,208.3H158.57M155.27,183.7H158.57M162.57,286.9V289.5M171.41,286.9V289.5M180.25,286.9V289.5M189.09,286.9V289.5M197.93,286.9V289.5M206.77,286.9V289.5M215.61,286.9V289.5M224.45,286.9V289.5M233.29,286.9V289.5M242.13,286.9V289.5M250.97,286.9V289.5" stroke="#505050" stroke-width="0.9" fill="none"/>
<rect x="287.64" y="179" width="97" height="107.9" fill="none" stroke="#3a3a3a" stroke-width="1.1"/>
<path d="M284.34,282.1H287.64M284.34,257.5H287.64M284.34,232.9H287.64M284.34,208.3H287.64M284.34,183.7H287.64M291.64,286.9V289.5M300.48,286.9V289.5M309.32,286.9V289.5M318.16,286.9V289.5M327,286.9V289.5M335.84,286.9V289.5M344.68,286.9V289.5M353.52,286.9V289.5M362.36,286.9V289.5M371.2,286.9V289.5M380.04,286.9V289.5" stroke="#505050" stroke-width="0.9" fill="none"/>
<rect x="416.71" y="179" width="97" height="107.9" fill="none" stroke="#3a3a3a" stroke-width="1.1"/>
<path d="M413.41,282.1H416.71M413.41,257.5H416.71M413.41,232.9H416.71M413.41,208.3H416.71M413.41,183.7H416.71M420.71,286.9V289.5M429.55,286.9V289.5M438.39,286.9V289.5M447.23,286.9V289.5M456.07,286.9V289.5M464.91,286.9V289.5M473.75,286.9V289.5M482.59,286.9V289.5M491.43,286.9V289.5M500.27,286.9V289.5M509.11,286.9V289.5" stroke="#505050" stroke-width="0.9" fill="none"/>
<g font-family='"Liberation Sans", sans-serif' fill="#333">
<text x="23.9" y="131.4" font-size="5.2" fill="#4a4a4a" stroke="#4a4a4a" stroke-width="0.12" text-anchor="end">8</text>
<text x="23.9" y="119.15" font-size="5.2" fill="#4a4a4a" stroke="#4a4a4a" stroke-width="0.12" text-anchor="end">9</text>
<text x="23.9" y="106.9" font-size="5.2" fill="#4a4a4a" stroke="#4a4a4a" stroke-width="0.12" text-anchor="end">10</text>
<text x="23.9" y="94.65" font-size="5.2" fill="#4a4a4a" stroke="#4a4a4a" stroke-width="0.12" text-anchor="end">11</text>
<text x="23.9" y="82.4" font-size="5.2" fill="#4a4a4a" stroke="#4a4a4a" stroke-width="0.12" text-anchor="end">12</text>
<text x="23.9" y="70.15" font-size="5.2" fill="#4a4a4a" stroke="#4a4a4a" stroke-width="0.12" text-anchor="end">13</text>
<text x="23.9" y="57.9" font-size="5.2" fill="#4a4a4a" stroke="#4a4a4a" stroke-width="0.12" text-anchor="end">14</text>
<text x="23.9" y="45.65" font-size="5.2" fill="#4a4a4a" stroke="#4a4a4a" stroke-width="0.12" text-anchor="end">15</text>
<text x="23.9" y="33.4" font-size="5.2" fill="#4a4a4a" stroke="#4a4a4a" stroke-width="0.12" text-anchor="end">16</text>
<text x="152.97" y="131.4" font-size="5.2" fill="#4a4a4a" stroke="#4a4a4a" stroke-width="0.12" text-anchor="end">8</text>
<text x="152.97" y="119.15" font-size="5.2" fill="#4a4a4a" stroke="#4a4a4a" stroke-width="0.12" text-anchor="end">9</text>
<text x="152.97" y="106.9" font-size="5.2" fill="#4a4a4a" stroke="#4a4a4a" stroke-width="0.12" text-anchor="end">10</text>
<text x="152.97" y="94.65" font-size="5.2" fill="#4a4a4a" stroke="#4a4a4a" stroke-width="0.12" text-anchor="end">11</text>
<text x="152.97" y="82.4" font-size="5.2" fill="#4a4a4a" stroke="#4a4a4a" stroke-width="0.12" text-anchor="end">12</text>
<text x="152.97" y="70.15" font-size="5.2" fill="#4a4a4a" stroke="#4a4a4a" stroke-width="0.12" text-anchor="end">13</text>
<text x="152.97" y="57.9" font-size="5.2" fill="#4a4a4a" stroke="#4a4a4a" stroke-width="0.12" text-anchor="end">14</text>
<text x="152.97" y="45.65" font-size="5.2" fill="#4a4a4a" stroke="#4a4a4a" stroke-width="0.12" text-anchor="end">15</text>
<text x="152.97" y="33.4" font-size="5.2" fill="#4a4a4a" stroke="#4a4a4a" stroke-width="0.12" text-anchor="end">16</text>
<text x="282.04" y="131.4" font-size="5.2" fill="#4a4a4a" stroke="#4a4a4a" stroke-width="0.12" text-anchor="end">8</text>
<text x="282.04" y="119.15" font-size="5.2" fill="#4a4a4a" stroke="#4a4a4a" stroke-width="0.12" text-anchor="end">9</text>
<text x="282.04" y="106.9" font-size="5.2" fill="#4a4a4a" stroke="#4a4a4a" stroke-width="0.12" text-anchor="end">10</text>
<text x="282.04" y="94.65" font-size="5.2" fill="#4a4a4a" stroke="#4a4a4a" stroke-width="0.12" text-anchor="end">11</text>
<text x="282.04" y="82.4" font-size="5.2" fill="#4a4a4a" stroke="#4a4a4a" stroke-width="0.12" text-anchor="end">12</text>
<text x="282.04" y="70.15" font-size="5.2" fill="#4a4a4a" stroke="#4a4a4a" stroke-width="0.12" text-anchor="end">13</text>
<text x="282.04" y="57.9" font-size="5.2" fill="#4a4a4a" stroke="#4a4a4a" stroke-width="0.12" text-anchor="end">14</text>
<text x="282.04" y="45.65" font-size="5.2" fill="#4a4a4a" stroke="#4a4a4a" stroke-width="0.12" text-anchor="end">15</text>
<text x="282.04" y="33.4" font-size="5.2" fill="#4a4a4a" stroke="#4a4a4a" stroke-width="0.12" text-anchor="end">16</text>
<text x="411.11" y="131.4" font-size="5.2" fill="#4a4a4a" stroke="#4a4a4a" stroke-width="0.12" text-anchor="end">8</text>
<text x="411.11" y="119.15" font-size="5.2" fill="#4a4a4a" stroke="#4a4a4a" stroke-width="0.12" text-anchor="end">9</text>
<text x="411.11" y="106.9" font-size="5.2" fill="#4a4a4a" stroke="#4a4a4a" stroke-width="0.12" text-anchor="end">10</text>
<text x="411.11" y="94.65" font-size="5.2" fill="#4a4a4a" stroke="#4a4a4a" stroke-width="0.12" text-anchor="end">11</text>
<text x="411.11" y="82.4" font-size="5.2" fill="#4a4a4a" stroke="#4a4a4a" stroke-width="0.12" text-anchor="end">12</text>
<text x="411.11" y="70.15" font-size="5.2" fill="#4a4a4a" stroke="#4a4a4a" stroke-width="0.12" text-anchor="end">13</text>
<text x="411.11" y="57.9" font-size="5.2" fill="#4a4a4a" stroke="#4a4a4a" stroke-width="0.12" text-anchor="end">14</text>
<text x="411.11" y="45.65" font-size="5.2" fill="#4a4a4a" stroke="#4a4a4a" stroke-width="0.12" text-anchor="end">15</text>
<text x="411.11" y="33.4" font-size="5.2" fill="#4a4a4a" stroke="#4a4a4a" stroke-width="0.12" text-anchor="end">16</text>
<text x="23.9" y="283.9" font-size="5.2" fill="#4a4a4a" stroke="#4a4a4a" stroke-width="0.12" text-anchor="end">10</text>
<text x="23.9" y="259.3" font-size="5.2" fill="#4a4a4a" stroke="#4a4a4a" stroke-width="0.12" text-anchor="end">11</text>
<text x="23.9" y="234.7" font-size="5.2" fill="#4a4a4a" stroke="#4a4a4a" stroke-width="0.12" text-anchor="end">12</text>
<text x="23.9" y="210.1" font-size="5.2" fill="#4a4a4a" stroke="#4a4a4a" stroke-width="0.12" text-anchor="end">13</text>
<text x="23.9" y="185.5" font-size="5.2" fill="#4a4a4a" stroke="#4a4a4a" stroke-width="0.12" text-anchor="end">14</text>
<text x="152.97" y="283.9" font-size="5.2" fill="#4a4a4a" stroke="#4a4a4a" stroke-width="0.12" text-anchor="end">10</text>
<text x="152.97" y="259.3" font-size="5.2" fill="#4a4a4a" stroke="#4a4a4a" stroke-width="0.12" text-anchor="end">11</text>
<text x="152.97" y="234.7" font-size="5.2" fill="#4a4a4a" stroke="#4a4a4a" stroke-width="0.12" text-anchor="end">12</text>
<text x="152.97" y="210.1" font-size="5.2" fill="#4a4a4a" stroke="#4a4a4a" stroke-width="0.12" text-anchor="end">13</text>
<text x="152.97" y="185.5" font-size="5.2" fill="#4a4a4a" stroke="#4a4a4a" stroke-width="0.12" text-anchor="end">14</text>
<text x="282.04" y="283.9" font-size="5.2" fill="#4a4a4a" stroke="#4a4a4a" stroke-width="0.12" text-anchor="end">10</text>
<text x="282.04" y="259.3" font-size="5.2" fill="#4a4a4a" stroke="#4a4a4a" stroke-width="0.12" text-anchor="end">11</text>
<text x="282.04" y="234.7" font-size="5.2" fill="#4a4a4a" stroke="#4a4a4a" stroke-width="0.12" text-anchor="end">12</text>
<text x="282.04" y="210.1" font-size="5.2" fill="#4a4a4a" stroke="#4a4a4a" stroke-width="0.12" text-anchor="end">13</text>
<text x="282.04" y="185.5" font-size="5.2" fill="#4a4a4a" stroke="#4a4a4a" stroke-width="0.12" text-anchor="end">14</text>
<text x="411.11" y="283.9" font-size="5.2" fill="#4a4a4a" stroke="#4a4a4a" stroke-width="0.12" text-anchor="end">10</text>
<text x="411.11" y="259.3" font-size="5.2" fill="#4a4a4a" stroke="#4a4a4a" stroke-width="0.12" text-anchor="end">11</text>
<text x="411.11" y="234.7" font-size="5.2" fill="#4a4a4a" stroke="#4a4a4a" stroke-width="0.12" text-anchor="end">12</text>
<text x="411.11" y="210.1" font-size="5.2" fill="#4a4a4a" stroke="#4a4a4a" stroke-width="0.12" text-anchor="end">13</text>
<text x="411.11" y="185.5" font-size="5.2" fill="#4a4a4a" stroke="#4a4a4a" stroke-width="0.12" text-anchor="end">14</text>
<text transform="translate(35.4,140.1) rotate(-90)" font-size="5.4" fill="#4a4a4a" stroke="#4a4a4a" stroke-width="0.1" text-anchor="end">0</text>
<text transform="translate(41.3,140.1) rotate(-90)" font-size="5.4" fill="#4a4a4a" stroke="#4a4a4a" stroke-width="0.1" text-anchor="end">10</text>
<text transform="translate(47.2,140.1) rotate(-90)" font-size="5.4" fill="#4a4a4a" stroke="#4a4a4a" stroke-width="0.1" text-anchor="end">20</text>
<text transform="translate(53.1,140.1) rotate(-90)" font-size="5.4" fill="#4a4a4a" stroke="#4a4a4a" stroke-width="0.1" text-anchor="end">30</text>
<text transform="translate(59,140.1) rotate(-90)" font-size="5.4" fill="#4a4a4a" stroke="#4a4a4a" stroke-width="0.1" text-anchor="end">40</text>
<text transform="translate(64.9,140.1) rotate(-90)" font-size="5.4" fill="#4a4a4a" stroke="#4a4a4a" stroke-width="0.1" text-anchor="end">50</text>
<text transform="translate(70.8,140.1) rotate(-90)" font-size="5.4" fill="#4a4a4a" stroke="#4a4a4a" stroke-width="0.1" text-anchor="end">60</text>
<text transform="translate(76.7,140.1) rotate(-90)" font-size="5.4" fill="#4a4a4a" stroke="#4a4a4a" stroke-width="0.1" text-anchor="end">70</text>
<text transform="translate(82.6,140.1) rotate(-90)" font-size="5.4" fill="#4a4a4a" stroke="#4a4a4a" stroke-width="0.1" text-anchor="end">80</text>
<text transform="translate(88.5,140.1) rotate(-90)" font-size="5.4" fill="#4a4a4a" stroke="#4a4a4a" stroke-width="0.1" text-anchor="end">90</text>
<text transform="translate(94.4,140.1) rotate(-90)" font-size="5.4" fill="#4a4a4a" stroke="#4a4a4a" stroke-width="0.1" text-anchor="end">100</text>
<text transform="translate(100.3,140.1) rotate(-90)" font-size="5.4" fill="#4a4a4a" stroke="#4a4a4a" stroke-width="0.1" text-anchor="end">110</text>
<text transform="translate(106.2,140.1) rotate(-90)" font-size="5.4" fill="#4a4a4a" stroke="#4a4a4a" stroke-width="0.1" text-anchor="end">120</text>
<text transform="translate(112.1,140.1) rotate(-90)" font-size="5.4" fill="#4a4a4a" stroke="#4a4a4a" stroke-width="0.1" text-anchor="end">130</text>
<text transform="translate(118,140.1) rotate(-90)" font-size="5.4" fill="#4a4a4a" stroke="#4a4a4a" stroke-width="0.1" text-anchor="end">140</text>
<text transform="translate(123.9,140.1) rotate(-90)" font-size="5.4" fill="#4a4a4a" stroke="#4a4a4a" stroke-width="0.1" text-anchor="end">150</text>
<text transform="translate(164.47,140.1) rotate(-90)" font-size="5.4" fill="#4a4a4a" stroke="#4a4a4a" stroke-width="0.1" text-anchor="end">0</text>
<text transform="translate(170.37,140.1) rotate(-90)" font-size="5.4" fill="#4a4a4a" stroke="#4a4a4a" stroke-width="0.1" text-anchor="end">10</text>
<text transform="translate(176.27,140.1) rotate(-90)" font-size="5.4" fill="#4a4a4a" stroke="#4a4a4a" stroke-width="0.1" text-anchor="end">20</text>
<text transform="translate(182.17,140.1) rotate(-90)" font-size="5.4" fill="#4a4a4a" stroke="#4a4a4a" stroke-width="0.1" text-anchor="end">30</text>
<text transform="translate(188.07,140.1) rotate(-90)" font-size="5.4" fill="#4a4a4a" stroke="#4a4a4a" stroke-width="0.1" text-anchor="end">40</text>
<text transform="translate(193.97,140.1) rotate(-90)" font-size="5.4" fill="#4a4a4a" stroke="#4a4a4a" stroke-width="0.1" text-anchor="end">50</text>
<text transform="translate(199.87,140.1) rotate(-90)" font-size="5.4" fill="#4a4a4a" stroke="#4a4a4a" stroke-width="0.1" text-anchor="end">60</text>
<text transform="translate(205.77,140.1) rotate(-90)" font-size="5.4" fill="#4a4a4a" stroke="#4a4a4a" stroke-width="0.1" text-anchor="end">70</text>
<text transform="translate(211.67,140.1) rotate(-90)" font-size="5.4" fill="#4a4a4a" stroke="#4a4a4a" stroke-width="0.1" text-anchor="end">80</text>
<text transform="translate(217.57,140.1) rotate(-90)" font-size="5.4" fill="#4a4a4a" stroke="#4a4a4a" stroke-width="0.1" text-anchor="end">90</text>
<text transform="translate(223.47,140.1) rotate(-90)" font-size="5.4" fill="#4a4a4a" stroke="#4a4a4a" stroke-width="0.1" text-anchor="end">100</text>
<text transform="translate(229.37,140.1) rotate(-90)" font-size="5.4" fill="#4a4a4a" stroke="#4a4a4a" stroke-width="0.1" text-anchor="end">110</text>
<text transform="translate(235.27,140.1) rotate(-90)" font-size="5.4" fill="#4a4a4a" stroke="#4a4a4a" stroke-width="0.1" text-anchor="end">120</text>
<text transform="translate(241.17,140.1) rotate(-90)" font-size="5.4" fill="#4a4a4a" stroke="#4a4a4a" stroke-width="0.1" text-anchor="end">130</text>
<text transform="translate(247.07,140.1) rotate(-90)" font-size="5.4" fill="#4a4a4a" stroke="#4a4a4a" stroke-width="0.1" text-anchor="end">140</text>
<text transform="translate(252.97,140.1) rotate(-90)" font-size="5.4" fill="#4a4a4a" stroke="#4a4a4a" stroke-width="0.1" text-anchor="end">150</text>
<text transform="translate(293.54,140.1) rotate(-90)" font-size="5.4" fill="#4a4a4a" stroke="#4a4a4a" stroke-width="0.1" text-anchor="end">0</text>
<text transform="translate(299.44,140.1) rotate(-90)" font-size="5.4" fill="#4a4a4a" stroke="#4a4a4a" stroke-width="0.1" text-anchor="end">10</text>
<text transform="translate(305.34,140.1) rotate(-90)" font-size="5.4" fill="#4a4a4a" stroke="#4a4a4a" stroke-width="0.1" text-anchor="end">20</text>
<text transform="translate(311.24,140.1) rotate(-90)" font-size="5.4" fill="#4a4a4a" stroke="#4a4a4a" stroke-width="0.1" text-anchor="end">30</text>
<text transform="translate(317.14,140.1) rotate(-90)" font-size="5.4" fill="#4a4a4a" stroke="#4a4a4a" stroke-width="0.1" text-anchor="end">40</text>
<text transform="translate(323.04,140.1) rotate(-90)" font-size="5.4" fill="#4a4a4a" stroke="#4a4a4a" stroke-width="0.1" text-anchor="end">50</text>
<text transform="translate(328.94,140.1) rotate(-90)" font-size="5.4" fill="#4a4a4a" stroke="#4a4a4a" stroke-width="0.1" text-anchor="end">60</text>
<text transform="translate(334.84,140.1) rotate(-90)" font-size="5.4" fill="#4a4a4a" stroke="#4a4a4a" stroke-width="0.1" text-anchor="end">70</text>
<text transform="translate(340.74,140.1) rotate(-90)" font-size="5.4" fill="#4a4a4a" stroke="#4a4a4a" stroke-width="0.1" text-anchor="end">80</text>
<text transform="translate(346.64,140.1) rotate(-90)" font-size="5.4" fill="#4a4a4a" stroke="#4a4a4a" stroke-width="0.1" text-anchor="end">90</text>
<text transform="translate(352.54,140.1) rotate(-90)" font-size="5.4" fill="#4a4a4a" stroke="#4a4a4a" stroke-width="0.1" text-anchor="end">100</text>
<text transform="translate(358.44,140.1) rotate(-90)" font-size="5.4" fill="#4a4a4a" stroke="#4a4a4a" stroke-width="0.1" text-anchor="end">110</text>
<text transform="translate(364.34,140.1) rotate(-90)" font-size="5.4" fill="#4a4a4a" stroke="#4a4a4a" stroke-width="0.1" text-anchor="end">120</text>
<text transform="translate(370.24,140.1) rotate(-90)" font-size="5.4" fill="#4a4a4a" stroke="#4a4a4a" stroke-width="0.1" text-anchor="end">130</text>
<text transform="translate(376.14,140.1) rotate(-90)" font-size="5.4" fill="#4a4a4a" stroke="#4a4a4a" stroke-width="0.1" text-anchor="end">140</text>
<text transform="translate(382.04,140.1) rotate(-90)" font-size="5.4" fill="#4a4a4a" stroke="#4a4a4a" stroke-width="0.1" text-anchor="end">150</text>
<text transform="translate(422.61,140.1) rotate(-90)" font-size="5.4" fill="#4a4a4a" stroke="#4a4a4a" stroke-width="0.1" text-anchor="end">0</text>
<text transform="translate(428.51,140.1) rotate(-90)" font-size="5.4" fill="#4a4a4a" stroke="#4a4a4a" stroke-width="0.1" text-anchor="end">10</text>
<text transform="translate(434.41,140.1) rotate(-90)" font-size="5.4" fill="#4a4a4a" stroke="#4a4a4a" stroke-width="0.1" text-anchor="end">20</text>
<text transform="translate(440.31,140.1) rotate(-90)" font-size="5.4" fill="#4a4a4a" stroke="#4a4a4a" stroke-width="0.1" text-anchor="end">30</text>
<text transform="translate(446.21,140.1) rotate(-90)" font-size="5.4" fill="#4a4a4a" stroke="#4a4a4a" stroke-width="0.1" text-anchor="end">40</text>
<text transform="translate(452.11,140.1) rotate(-90)" font-size="5.4" fill="#4a4a4a" stroke="#4a4a4a" stroke-width="0.1" text-anchor="end">50</text>
<text transform="translate(458.01,140.1) rotate(-90)" font-size="5.4" fill="#4a4a4a" stroke="#4a4a4a" stroke-width="0.1" text-anchor="end">60</text>
<text transform="translate(463.91,140.1) rotate(-90)" font-size="5.4" fill="#4a4a4a" stroke="#4a4a4a" stroke-width="0.1" text-anchor="end">70</text>
<text transform="translate(469.81,140.1) rotate(-90)" font-size="5.4" fill="#4a4a4a" stroke="#4a4a4a" stroke-width="0.1" text-anchor="end">80</text>
<text transform="translate(475.71,140.1) rotate(-90)" font-size="5.4" fill="#4a4a4a" stroke="#4a4a4a" stroke-width="0.1" text-anchor="end">90</text>
<text transform="translate(481.61,140.1) rotate(-90)" font-size="5.4" fill="#4a4a4a" stroke="#4a4a4a" stroke-width="0.1" text-anchor="end">100</text>
<text transform="translate(487.51,140.1) rotate(-90)" font-size="5.4" fill="#4a4a4a" stroke="#4a4a4a" stroke-width="0.1" text-anchor="end">110</text>
<text transform="translate(493.41,140.1) rotate(-90)" font-size="5.4" fill="#4a4a4a" stroke="#4a4a4a" stroke-width="0.1" text-anchor="end">120</text>
<text transform="translate(499.31,140.1) rotate(-90)" font-size="5.4" fill="#4a4a4a" stroke="#4a4a4a" stroke-width="0.1" text-anchor="end">130</text>
<text transform="translate(505.21,140.1) rotate(-90)" font-size="5.4" fill="#4a4a4a" stroke="#4a4a4a" stroke-width="0.1" text-anchor="end">140</text>
<text transform="translate(511.11,140.1) rotate(-90)" font-size="5.4" fill="#4a4a4a" stroke="#4a4a4a" stroke-width="0.1" text-anchor="end">150</text>
<text transform="translate(35.4,293.3) rotate(-90)" font-size="5.4" fill="#4a4a4a" stroke="#4a4a4a" stroke-width="0.1" text-anchor="end">0</text>
<text transform="translate(44.24,293.3) rotate(-90)" font-size="5.4" fill="#4a4a4a" stroke="#4a4a4a" stroke-width="0.1" text-anchor="end">10</text>
<text transform="translate(53.08,293.3) rotate(-90)" font-size="5.4" fill="#4a4a4a" stroke="#4a4a4a" stroke-width="0.1" text-anchor="end">20</text>
<text transform="translate(61.92,293.3) rotate(-90)" font-size="5.4" fill="#4a4a4a" stroke="#4a4a4a" stroke-width="0.1" text-anchor="end">30</text>
<text transform="translate(70.76,293.3) rotate(-90)" font-size="5.4" fill="#4a4a4a" stroke="#4a4a4a" stroke-width="0.1" text-anchor="end">40</text>
<text transform="translate(79.6,293.3) rotate(-90)" font-size="5.4" fill="#4a4a4a" stroke="#4a4a4a" stroke-width="0.1" text-anchor="end">50</text>
<text transform="translate(88.44,293.3) rotate(-90)" font-size="5.4" fill="#4a4a4a" stroke="#4a4a4a" stroke-width="0.1" text-anchor="end">60</text>
<text transform="translate(97.28,293.3) rotate(-90)" font-size="5.4" fill="#4a4a4a" stroke="#4a4a4a" stroke-width="0.1" text-anchor="end">70</text>
<text transform="translate(106.12,293.3) rotate(-90)" font-size="5.4" fill="#4a4a4a" stroke="#4a4a4a" stroke-width="0.1" text-anchor="end">80</text>
<text transform="translate(114.96,293.3) rotate(-90)" font-size="5.4" fill="#4a4a4a" stroke="#4a4a4a" stroke-width="0.1" text-anchor="end">90</text>
<text transform="translate(123.8,293.3) rotate(-90)" font-size="5.4" fill="#4a4a4a" stroke="#4a4a4a" stroke-width="0.1" text-anchor="end">100</text>
<text transform="translate(164.47,293.3) rotate(-90)" font-size="5.4" fill="#4a4a4a" stroke="#4a4a4a" stroke-width="0.1" text-anchor="end">0</text>
<text transform="translate(173.31,293.3) rotate(-90)" font-size="5.4" fill="#4a4a4a" stroke="#4a4a4a" stroke-width="0.1" text-anchor="end">10</text>
<text transform="translate(182.15,293.3) rotate(-90)" font-size="5.4" fill="#4a4a4a" stroke="#4a4a4a" stroke-width="0.1" text-anchor="end">20</text>
<text transform="translate(190.99,293.3) rotate(-90)" font-size="5.4" fill="#4a4a4a" stroke="#4a4a4a" stroke-width="0.1" text-anchor="end">30</text>
<text transform="translate(199.83,293.3) rotate(-90)" font-size="5.4" fill="#4a4a4a" stroke="#4a4a4a" stroke-width="0.1" text-anchor="end">40</text>
<text transform="translate(208.67,293.3) rotate(-90)" font-size="5.4" fill="#4a4a4a" stroke="#4a4a4a" stroke-width="0.1" text-anchor="end">50</text>
<text transform="translate(217.51,293.3) rotate(-90)" font-size="5.4" fill="#4a4a4a" stroke="#4a4a4a" stroke-width="0.1" text-anchor="end">60</text>
<text transform="translate(226.35,293.3) rotate(-90)" font-size="5.4" fill="#4a4a4a" stroke="#4a4a4a" stroke-width="0.1" text-anchor="end">70</text>
<text transform="translate(235.19,293.3) rotate(-90)" font-size="5.4" fill="#4a4a4a" stroke="#4a4a4a" stroke-width="0.1" text-anchor="end">80</text>
<text transform="translate(244.03,293.3) rotate(-90)" font-size="5.4" fill="#4a4a4a" stroke="#4a4a4a" stroke-width="0.1" text-anchor="end">90</text>
<text transform="translate(252.87,293.3) rotate(-90)" font-size="5.4" fill="#4a4a4a" stroke="#4a4a4a" stroke-width="0.1" text-anchor="end">100</text>
<text transform="translate(293.54,293.3) rotate(-90)" font-size="5.4" fill="#4a4a4a" stroke="#4a4a4a" stroke-width="0.1" text-anchor="end">0</text>
<text transform="translate(302.38,293.3) rotate(-90)" font-size="5.4" fill="#4a4a4a" stroke="#4a4a4a" stroke-width="0.1" text-anchor="end">10</text>
<text transform="translate(311.22,293.3) rotate(-90)" font-size="5.4" fill="#4a4a4a" stroke="#4a4a4a" stroke-width="0.1" text-anchor="end">20</text>
<text transform="translate(320.06,293.3) rotate(-90)" font-size="5.4" fill="#4a4a4a" stroke="#4a4a4a" stroke-width="0.1" text-anchor="end">30</text>
<text transform="translate(328.9,293.3) rotate(-90)" font-size="5.4" fill="#4a4a4a" stroke="#4a4a4a" stroke-width="0.1" text-anchor="end">40</text>
<text transform="translate(337.74,293.3) rotate(-90)" font-size="5.4" fill="#4a4a4a" stroke="#4a4a4a" stroke-width="0.1" text-anchor="end">50</text>
<text transform="translate(346.58,293.3) rotate(-90)" font-size="5.4" fill="#4a4a4a" stroke="#4a4a4a" stroke-width="0.1" text-anchor="end">60</text>
<text transform="translate(355.42,293.3) rotate(-90)" font-size="5.4" fill="#4a4a4a" stroke="#4a4a4a" stroke-width="0.1" text-anchor="end">70</text>
<text transform="translate(364.26,293.3) rotate(-90)" font-size="5.4" fill="#4a4a4a" stroke="#4a4a4a" stroke-width="0.1" text-anchor="end">80</text>
<text transform="translate(373.1,293.3) rotate(-90)" font-size="5.4" fill="#4a4a4a" stroke="#4a4a4a" stroke-width="0.1" text-anchor="end">90</text>
<text transform="translate(381.94,293.3) rotate(-90)" font-size="5.4" fill="#4a4a4a" stroke="#4a4a4a" stroke-width="0.1" text-anchor="end">100</text>
<text transform="translate(422.61,293.3) rotate(-90)" font-size="5.4" fill="#4a4a4a" stroke="#4a4a4a" stroke-width="0.1" text-anchor="end">0</text>
<text transform="translate(431.45,293.3) rotate(-90)" font-size="5.4" fill="#4a4a4a" stroke="#4a4a4a" stroke-width="0.1" text-anchor="end">10</text>
<text transform="translate(440.29,293.3) rotate(-90)" font-size="5.4" fill="#4a4a4a" stroke="#4a4a4a" stroke-width="0.1" text-anchor="end">20</text>
<text transform="translate(449.13,293.3) rotate(-90)" font-size="5.4" fill="#4a4a4a" stroke="#4a4a4a" stroke-width="0.1" text-anchor="end">30</text>
<text transform="translate(457.97,293.3) rotate(-90)" font-size="5.4" fill="#4a4a4a" stroke="#4a4a4a" stroke-width="0.1" text-anchor="end">40</text>
<text transform="translate(466.81,293.3) rotate(-90)" font-size="5.4" fill="#4a4a4a" stroke="#4a4a4a" stroke-width="0.1" text-anchor="end">50</text>
<text transform="translate(475.65,293.3) rotate(-90)" font-size="5.4" fill="#4a4a4a" stroke="#4a4a4a" stroke-width="0.1" text-anchor="end">60</text>
<text transform="translate(484.49,293.3) rotate(-90)" font-size="5.4" fill="#4a4a4a" stroke="#4a4a4a" stroke-width="0.1" text-anchor="end">70</text>
<text transform="translate(493.33,293.3) rotate(-90)" font-size="5.4" fill="#4a4a4a" stroke="#4a4a4a" stroke-width="0.1" text-anchor="end">80</text>
<text transform="translate(502.17,293.3) rotate(-90)" font-size="5.4" fill="#4a4a4a" stroke="#4a4a4a" stroke-width="0.1" text-anchor="end">90</text>
<text transform="translate(511.01,293.3) rotate(-90)" font-size="5.4" fill="#4a4a4a" stroke="#4a4a4a" stroke-width="0.1" text-anchor="end">100</text>
<text transform="translate(12.9,80.4) rotate(-90)" font-size="7.4" stroke="#333" stroke-width="0.3" text-anchor="middle" textLength="46.5" lengthAdjust="spacingAndGlyphs">Hemoglobin (g/dL)</text>
<text transform="translate(141.97,80.4) rotate(-90)" font-size="7.4" stroke="#333" stroke-width="0.3" text-anchor="middle" textLength="46.5" lengthAdjust="spacingAndGlyphs">Hemoglobin (g/dL)</text>
<text transform="translate(271.04,80.4) rotate(-90)" font-size="7.4" stroke="#333" stroke-width="0.3" text-anchor="middle" textLength="46.5" lengthAdjust="spacingAndGlyphs">Hemoglobin (g/dL)</text>
<text transform="translate(400.11,80.4) rotate(-90)" font-size="7.4" stroke="#333" stroke-width="0.3" text-anchor="middle" textLength="46.5" lengthAdjust="spacingAndGlyphs">Hemoglobin (g/dL)</text>
<text transform="translate(12.9,232.95) rotate(-90)" font-size="7.4" stroke="#333" stroke-width="0.3" text-anchor="middle" textLength="46.5" lengthAdjust="spacingAndGlyphs">Hemoglobin (g/dL)</text>
<text transform="translate(141.97,232.95) rotate(-90)" font-size="7.4" stroke="#333" stroke-width="0.3" text-anchor="middle" textLength="46.5" lengthAdjust="spacingAndGlyphs">Hemoglobin (g/dL)</text>
<text transform="translate(271.04,232.95) rotate(-90)" font-size="7.4" stroke="#333" stroke-width="0.3" text-anchor="middle" textLength="46.5" lengthAdjust="spacingAndGlyphs">Hemoglobin (g/dL)</text>
<text transform="translate(400.11,232.95) rotate(-90)" font-size="7.4" stroke="#333" stroke-width="0.3" text-anchor="middle" textLength="46.5" lengthAdjust="spacingAndGlyphs">Hemoglobin (g/dL)</text>
<text x="78" y="310.6" font-size="7.2" stroke="#333" stroke-width="0.28" text-anchor="middle" textLength="51.5" lengthAdjust="spacingAndGlyphs">Serum ferritin (ug/L)</text>
<text x="207.07" y="310.6" font-size="7.2" stroke="#333" stroke-width="0.28" text-anchor="middle" textLength="51.5" lengthAdjust="spacingAndGlyphs">Serum ferritin (ug/L)</text>
<text x="336.14" y="310.6" font-size="7.2" stroke="#333" stroke-width="0.28" text-anchor="middle" textLength="51.5" lengthAdjust="spacingAndGlyphs">Serum ferritin (ug/L)</text>
<text x="465.21" y="310.6" font-size="7.2" stroke="#333" stroke-width="0.28" text-anchor="middle" textLength="51.5" lengthAdjust="spacingAndGlyphs">Serum ferritin (ug/L)</text>
</g>
<g font-family='"Liberation Sans", sans-serif' fill="#222" stroke="#222" stroke-width="0.12">
<text x="78" y="21.6" font-size="7.4" text-anchor="middle">1<tspan font-size="6" dy="-2.8">st</tspan></text>
<text x="207.07" y="21.6" font-size="7.4" text-anchor="middle">2<tspan font-size="6" dy="-2.8">nd</tspan></text>
<text x="336.14" y="21.6" font-size="7.4" text-anchor="middle">3<tspan font-size="6" dy="-2.8">rd</tspan></text>
<text x="465.21" y="21.7" font-size="7.6" text-anchor="middle">Unknown</text>
</g>
<g font-family='"Liberation Sans", sans-serif' font-weight="bold" font-size="10.4" fill="#000" stroke="#000" stroke-width="0.3">
<text x="6" y="13.6">A</text>
<text x="135.07" y="13.6">B</text>
<text x="264.14" y="13.6">C</text>
<text x="393.21" y="13.6">D</text>
<text x="6.5" y="173.1">E</text>
<text x="135.57" y="173.1">F</text>
<text x="264.64" y="173.1">G</text>
<text x="393.71" y="173.1">H</text>
</g>
<rect x="0.5" y="0.5" width="519" height="318" fill="none" stroke="#6e6e6e" stroke-width="1"/>
</svg>
</body></html>
